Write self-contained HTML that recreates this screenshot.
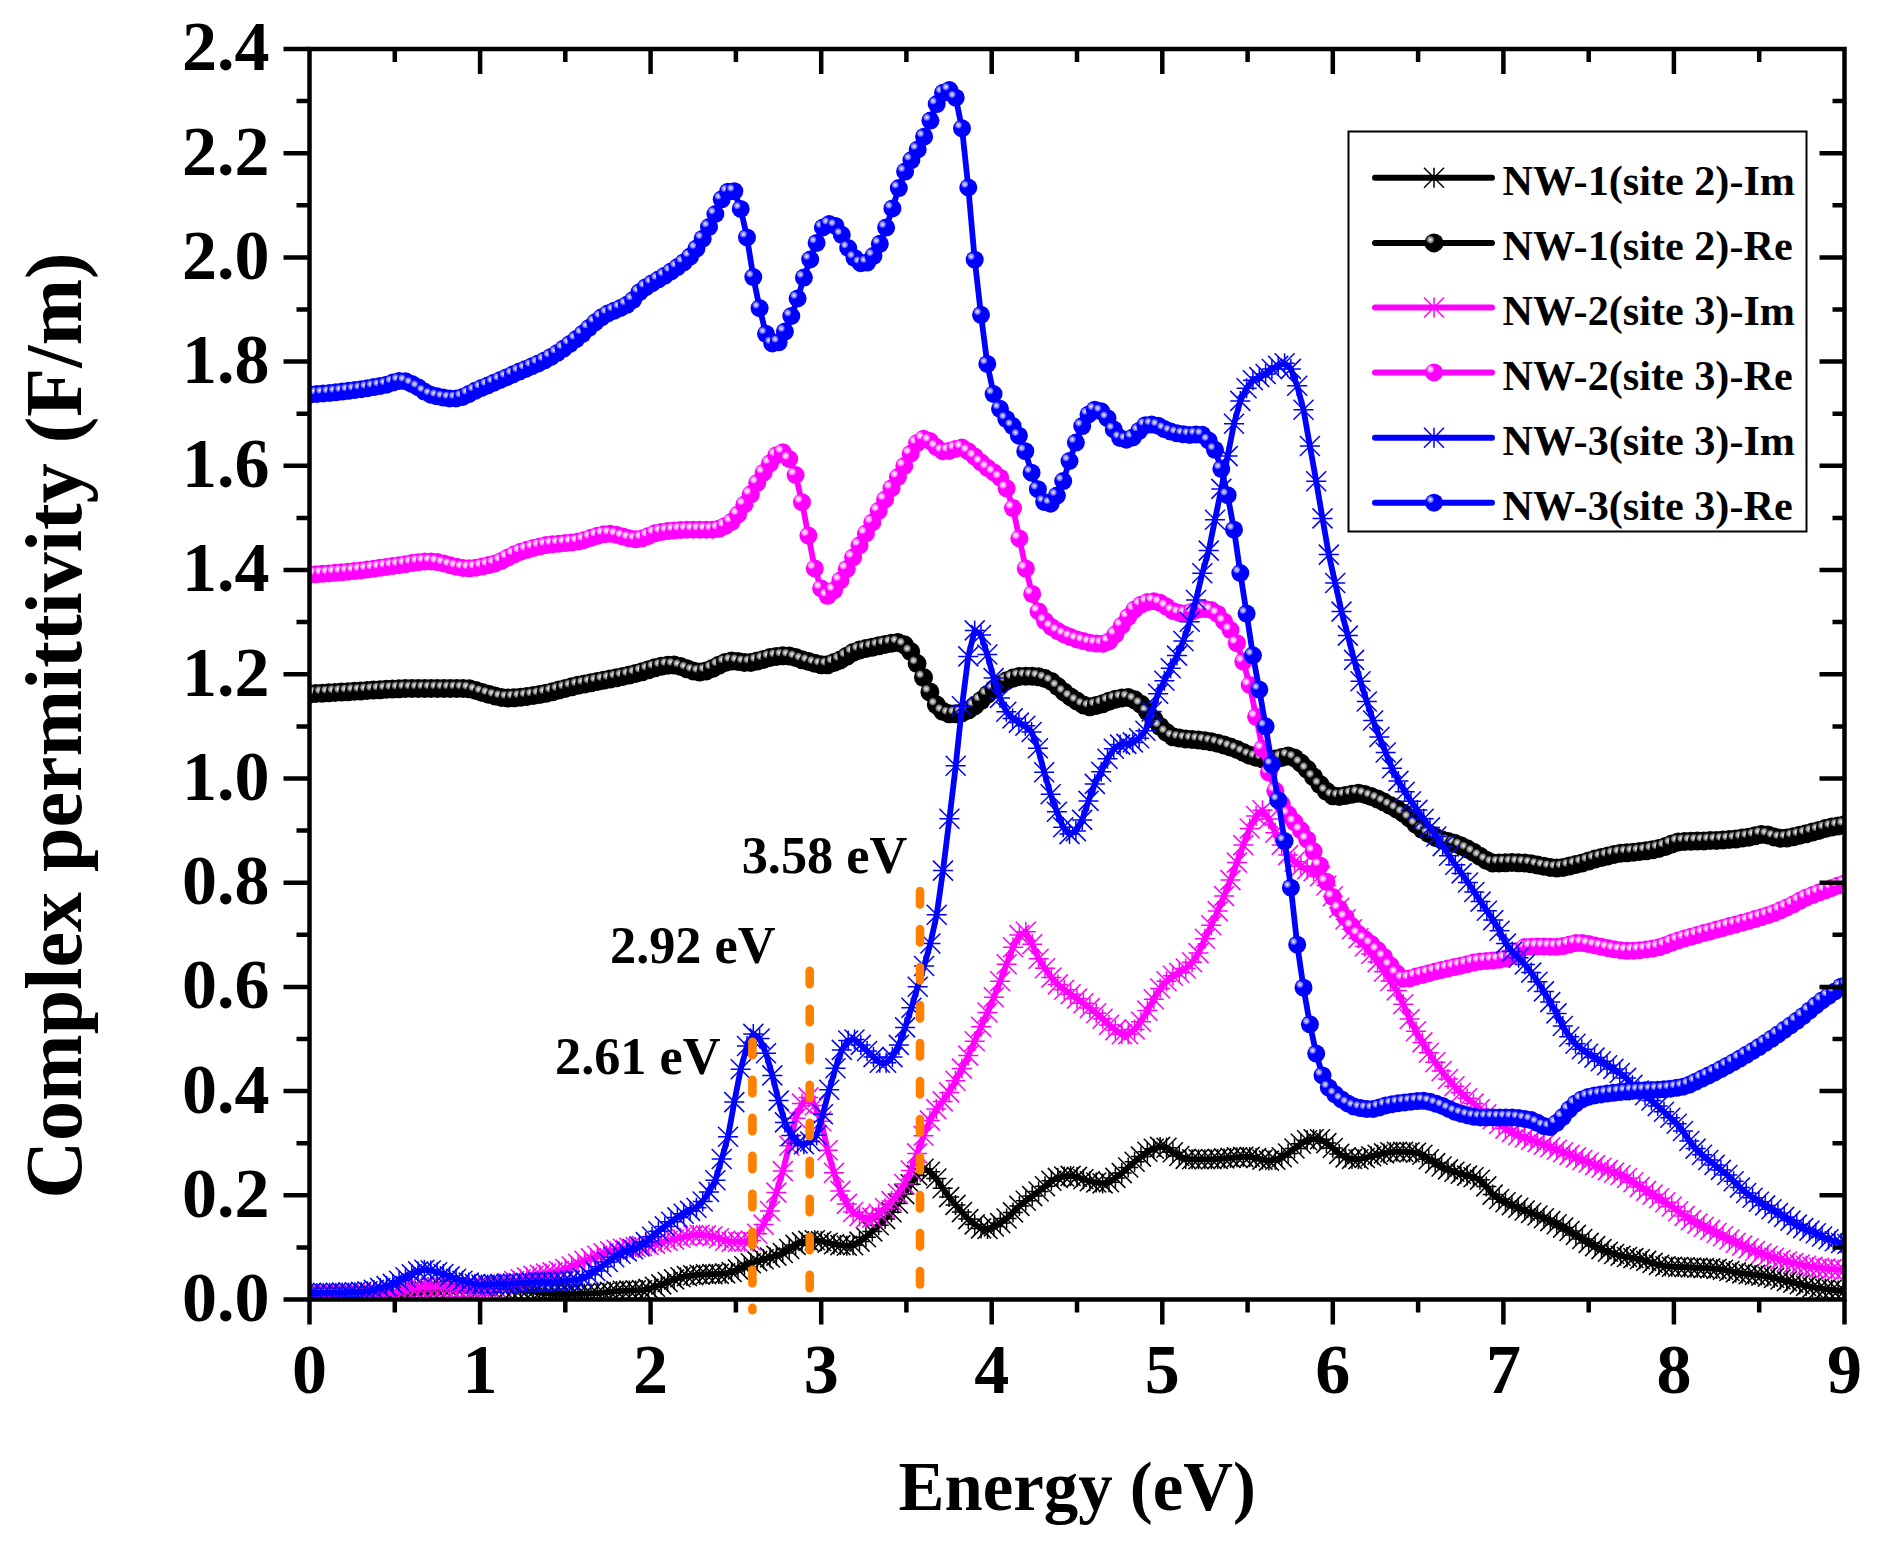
<!DOCTYPE html>
<html lang="en"><head><meta charset="utf-8"><title>Complex permittivity</title>
<style>html,body{margin:0;padding:0;background:#fff}svg{display:block}text{font-family:"Liberation Serif","Times New Roman",serif;font-weight:bold;fill:#000}</style></head><body>
<svg width="1885" height="1546" viewBox="0 0 1885 1546">
<defs>
<radialGradient id="gk"><stop offset="0" stop-color="#ffffff"/><stop offset="0.2" stop-color="#d0d0d0"/><stop offset="0.65" stop-color="#909090" stop-opacity="0.9"/><stop offset="1" stop-color="#606060" stop-opacity="0"/></radialGradient>
<radialGradient id="gm"><stop offset="0" stop-color="#ffffff"/><stop offset="0.3" stop-color="#ffd0ff"/><stop offset="0.7" stop-color="#ff90ff" stop-opacity="0.85"/><stop offset="1" stop-color="#ff60ff" stop-opacity="0"/></radialGradient>
<radialGradient id="gb"><stop offset="0" stop-color="#ffffff"/><stop offset="0.22" stop-color="#c4c4ff"/><stop offset="0.7" stop-color="#8080ff" stop-opacity="0.85"/><stop offset="1" stop-color="#5050ff" stop-opacity="0"/></radialGradient>
<g id="sk"><circle r="9.5" fill="#000000"/><circle cx="-3.6" cy="-3.2" r="4.4" fill="url(#gk)"/></g>
<g id="ak" stroke="#000000" stroke-width="1.5" fill="none"><path d="M-10 0H10M0 -10V10M-10 -10L10 10M-10 10L10 -10"/></g>
<g id="sm"><circle r="9.0" fill="#ff00ff"/><circle cx="-3.6" cy="-3.2" r="4.3" fill="url(#gm)"/></g>
<g id="am" stroke="#ff00ff" stroke-width="1.5" fill="none"><path d="M-10 0H10M0 -10V10M-10 -10L10 10M-10 10L10 -10"/></g>
<g id="sb"><circle r="9.0" fill="#0000ff"/><circle cx="-3.6" cy="-3.2" r="4.0" fill="url(#gb)"/></g>
<g id="ab" stroke="#0000ff" stroke-width="1.5" fill="none"><path d="M-10 0H10M0 -10V10M-10 -10L10 10M-10 10L10 -10"/></g>
<clipPath id="clip"><rect x="308.0" y="49.0" width="1536.5" height="1251.5"/></clipPath>
</defs>
<rect width="1885" height="1546" fill="#fff"/>
<g clip-path="url(#clip)">
<polyline points="309.5,1296.0 315.9,1296.0 322.3,1296.0 328.7,1296.0 335.1,1295.9 341.5,1295.9 347.9,1295.8 354.3,1295.8 360.7,1295.7 367.1,1295.6 373.5,1295.5 379.9,1295.4 386.2,1295.3 392.6,1295.2 399.0,1295.0 405.4,1294.6 411.8,1293.8 418.2,1292.7 424.6,1291.6 431.0,1290.9 437.4,1290.4 443.8,1290.0 450.2,1289.6 456.6,1289.2 463.0,1288.8 469.4,1288.1 475.8,1287.4 482.2,1286.8 488.6,1286.5 495.0,1286.7 501.4,1287.3 507.8,1288.3 514.2,1289.2 520.6,1290.1 527.0,1290.8 533.4,1291.7 539.8,1292.5 546.1,1293.2 552.5,1293.8 558.9,1294.0 565.3,1294.0 571.7,1293.9 578.1,1293.8 584.5,1293.6 590.9,1293.4 597.3,1293.1 603.7,1292.7 610.1,1291.9 616.5,1291.1 622.9,1290.8 629.3,1290.6 635.7,1290.4 642.1,1290.1 648.5,1288.9 654.9,1286.7 661.3,1284.4 667.7,1282.0 674.1,1279.4 680.5,1277.3 686.9,1276.1 693.2,1275.3 699.6,1274.7 706.0,1274.3 712.4,1274.1 718.8,1273.9 725.2,1273.4 731.6,1272.0 738.0,1269.4 744.4,1266.2 750.8,1263.2 757.2,1261.1 763.6,1259.3 770.0,1257.5 776.4,1255.6 782.8,1253.0 789.2,1249.0 795.6,1244.9 802.0,1242.4 808.4,1240.9 814.8,1240.3 821.2,1241.2 827.6,1242.7 834.0,1244.2 840.4,1245.1 846.8,1245.8 853.1,1245.2 859.5,1241.6 865.9,1237.2 872.3,1231.4 878.7,1225.2 885.1,1219.1 891.5,1212.2 897.9,1203.5 904.3,1194.1 910.7,1184.3 917.1,1175.4 923.5,1168.7 929.9,1171.8 936.3,1178.5 942.7,1188.3 949.1,1197.1 955.5,1204.9 961.9,1212.1 968.3,1219.1 974.7,1224.4 981.1,1228.4 987.5,1229.0 993.9,1226.5 1000.2,1223.1 1006.6,1218.5 1013.0,1212.4 1019.4,1205.9 1025.8,1200.7 1032.2,1196.1 1038.6,1191.5 1045.0,1186.3 1051.4,1180.8 1057.8,1177.9 1064.2,1176.5 1070.6,1175.9 1077.0,1176.9 1083.4,1179.2 1089.8,1181.2 1096.2,1182.5 1102.6,1183.4 1109.0,1182.2 1115.4,1177.9 1121.8,1173.1 1128.2,1167.5 1134.6,1161.7 1141.0,1156.6 1147.4,1151.8 1153.8,1148.7 1160.1,1146.9 1166.5,1147.7 1172.9,1152.3 1179.3,1156.0 1185.7,1158.9 1192.1,1159.3 1198.5,1159.3 1204.9,1159.3 1211.3,1159.3 1217.7,1158.9 1224.1,1158.4 1230.5,1157.9 1236.9,1157.3 1243.3,1156.9 1249.7,1156.9 1256.1,1158.1 1262.5,1159.6 1268.9,1160.6 1275.3,1159.7 1281.7,1157.2 1288.1,1153.5 1294.5,1148.5 1300.9,1143.8 1307.2,1140.2 1313.6,1139.2 1320.0,1139.2 1326.4,1143.1 1332.8,1148.0 1339.2,1153.9 1345.6,1157.4 1352.0,1158.9 1358.4,1159.2 1364.8,1158.0 1371.2,1156.2 1377.6,1154.8 1384.0,1153.4 1390.4,1152.2 1396.8,1151.7 1403.2,1151.8 1409.6,1152.2 1416.0,1152.8 1422.4,1154.8 1428.8,1159.2 1435.2,1163.1 1441.6,1166.5 1448.0,1169.4 1454.4,1171.7 1460.8,1173.7 1467.1,1175.6 1473.5,1177.3 1479.9,1179.7 1486.3,1186.4 1492.7,1194.6 1499.1,1199.0 1505.5,1202.3 1511.9,1205.1 1518.3,1207.8 1524.7,1210.5 1531.1,1213.0 1537.5,1215.5 1543.9,1218.2 1550.3,1221.1 1556.7,1224.3 1563.1,1227.6 1569.5,1231.0 1575.9,1234.9 1582.3,1239.0 1588.7,1242.9 1595.1,1246.1 1601.5,1249.1 1607.9,1251.8 1614.2,1254.0 1620.6,1255.7 1627.0,1257.0 1633.4,1258.1 1639.8,1259.3 1646.2,1260.9 1652.6,1262.9 1659.0,1264.9 1665.4,1266.2 1671.8,1266.7 1678.2,1267.0 1684.6,1267.2 1691.0,1267.5 1697.4,1267.8 1703.8,1268.1 1710.2,1268.4 1716.6,1268.9 1723.0,1269.7 1729.4,1271.0 1735.8,1272.4 1742.2,1273.4 1748.6,1274.2 1755.0,1274.9 1761.4,1275.6 1767.8,1276.6 1774.1,1277.9 1780.5,1279.5 1786.9,1281.1 1793.3,1282.6 1799.7,1284.2 1806.1,1285.9 1812.5,1287.2 1818.9,1288.2 1825.3,1289.1 1831.7,1289.8 1838.1,1290.5 1844.5,1291.0" fill="none" stroke="#000000" stroke-width="5.8" stroke-linejoin="round"/>
<g><use href="#ak" x="309.5" y="1296.0"/><use href="#ak" x="315.9" y="1296.0"/><use href="#ak" x="322.3" y="1296.0"/><use href="#ak" x="328.7" y="1296.0"/><use href="#ak" x="335.1" y="1295.9"/><use href="#ak" x="341.5" y="1295.9"/><use href="#ak" x="347.9" y="1295.8"/><use href="#ak" x="354.3" y="1295.8"/><use href="#ak" x="360.7" y="1295.7"/><use href="#ak" x="367.1" y="1295.6"/><use href="#ak" x="373.5" y="1295.5"/><use href="#ak" x="379.9" y="1295.4"/><use href="#ak" x="386.2" y="1295.3"/><use href="#ak" x="392.6" y="1295.2"/><use href="#ak" x="399.0" y="1295.0"/><use href="#ak" x="405.4" y="1294.6"/><use href="#ak" x="411.8" y="1293.8"/><use href="#ak" x="418.2" y="1292.7"/><use href="#ak" x="424.6" y="1291.6"/><use href="#ak" x="431.0" y="1290.9"/><use href="#ak" x="437.4" y="1290.4"/><use href="#ak" x="443.8" y="1290.0"/><use href="#ak" x="450.2" y="1289.6"/><use href="#ak" x="456.6" y="1289.2"/><use href="#ak" x="463.0" y="1288.8"/><use href="#ak" x="469.4" y="1288.1"/><use href="#ak" x="475.8" y="1287.4"/><use href="#ak" x="482.2" y="1286.8"/><use href="#ak" x="488.6" y="1286.5"/><use href="#ak" x="495.0" y="1286.7"/><use href="#ak" x="501.4" y="1287.3"/><use href="#ak" x="507.8" y="1288.3"/><use href="#ak" x="514.2" y="1289.2"/><use href="#ak" x="520.6" y="1290.1"/><use href="#ak" x="527.0" y="1290.8"/><use href="#ak" x="533.4" y="1291.7"/><use href="#ak" x="539.8" y="1292.5"/><use href="#ak" x="546.1" y="1293.2"/><use href="#ak" x="552.5" y="1293.8"/><use href="#ak" x="558.9" y="1294.0"/><use href="#ak" x="565.3" y="1294.0"/><use href="#ak" x="571.7" y="1293.9"/><use href="#ak" x="578.1" y="1293.8"/><use href="#ak" x="584.5" y="1293.6"/><use href="#ak" x="590.9" y="1293.4"/><use href="#ak" x="597.3" y="1293.1"/><use href="#ak" x="603.7" y="1292.7"/><use href="#ak" x="610.1" y="1291.9"/><use href="#ak" x="616.5" y="1291.1"/><use href="#ak" x="622.9" y="1290.8"/><use href="#ak" x="629.3" y="1290.6"/><use href="#ak" x="635.7" y="1290.4"/><use href="#ak" x="642.1" y="1290.1"/><use href="#ak" x="648.5" y="1288.9"/><use href="#ak" x="654.9" y="1286.7"/><use href="#ak" x="661.3" y="1284.4"/><use href="#ak" x="667.7" y="1282.0"/><use href="#ak" x="674.1" y="1279.4"/><use href="#ak" x="680.5" y="1277.3"/><use href="#ak" x="686.9" y="1276.1"/><use href="#ak" x="693.2" y="1275.3"/><use href="#ak" x="699.6" y="1274.7"/><use href="#ak" x="706.0" y="1274.3"/><use href="#ak" x="712.4" y="1274.1"/><use href="#ak" x="718.8" y="1273.9"/><use href="#ak" x="725.2" y="1273.4"/><use href="#ak" x="731.6" y="1272.0"/><use href="#ak" x="738.0" y="1269.4"/><use href="#ak" x="744.4" y="1266.2"/><use href="#ak" x="750.8" y="1263.2"/><use href="#ak" x="757.2" y="1261.1"/><use href="#ak" x="763.6" y="1259.3"/><use href="#ak" x="770.0" y="1257.5"/><use href="#ak" x="776.4" y="1255.6"/><use href="#ak" x="782.8" y="1253.0"/><use href="#ak" x="789.2" y="1249.0"/><use href="#ak" x="795.6" y="1244.9"/><use href="#ak" x="802.0" y="1242.4"/><use href="#ak" x="808.4" y="1240.9"/><use href="#ak" x="814.8" y="1240.3"/><use href="#ak" x="821.2" y="1241.2"/><use href="#ak" x="827.6" y="1242.7"/><use href="#ak" x="834.0" y="1244.2"/><use href="#ak" x="840.4" y="1245.1"/><use href="#ak" x="846.8" y="1245.8"/><use href="#ak" x="853.1" y="1245.2"/><use href="#ak" x="859.5" y="1241.6"/><use href="#ak" x="865.9" y="1237.2"/><use href="#ak" x="872.3" y="1231.4"/><use href="#ak" x="878.7" y="1225.2"/><use href="#ak" x="885.1" y="1219.1"/><use href="#ak" x="891.5" y="1212.2"/><use href="#ak" x="897.9" y="1203.5"/><use href="#ak" x="904.3" y="1194.1"/><use href="#ak" x="910.7" y="1184.3"/><use href="#ak" x="917.1" y="1175.4"/><use href="#ak" x="923.5" y="1168.7"/><use href="#ak" x="929.9" y="1171.8"/><use href="#ak" x="936.3" y="1178.5"/><use href="#ak" x="942.7" y="1188.3"/><use href="#ak" x="949.1" y="1197.1"/><use href="#ak" x="955.5" y="1204.9"/><use href="#ak" x="961.9" y="1212.1"/><use href="#ak" x="968.3" y="1219.1"/><use href="#ak" x="974.7" y="1224.4"/><use href="#ak" x="981.1" y="1228.4"/><use href="#ak" x="987.5" y="1229.0"/><use href="#ak" x="993.9" y="1226.5"/><use href="#ak" x="1000.2" y="1223.1"/><use href="#ak" x="1006.6" y="1218.5"/><use href="#ak" x="1013.0" y="1212.4"/><use href="#ak" x="1019.4" y="1205.9"/><use href="#ak" x="1025.8" y="1200.7"/><use href="#ak" x="1032.2" y="1196.1"/><use href="#ak" x="1038.6" y="1191.5"/><use href="#ak" x="1045.0" y="1186.3"/><use href="#ak" x="1051.4" y="1180.8"/><use href="#ak" x="1057.8" y="1177.9"/><use href="#ak" x="1064.2" y="1176.5"/><use href="#ak" x="1070.6" y="1175.9"/><use href="#ak" x="1077.0" y="1176.9"/><use href="#ak" x="1083.4" y="1179.2"/><use href="#ak" x="1089.8" y="1181.2"/><use href="#ak" x="1096.2" y="1182.5"/><use href="#ak" x="1102.6" y="1183.4"/><use href="#ak" x="1109.0" y="1182.2"/><use href="#ak" x="1115.4" y="1177.9"/><use href="#ak" x="1121.8" y="1173.1"/><use href="#ak" x="1128.2" y="1167.5"/><use href="#ak" x="1134.6" y="1161.7"/><use href="#ak" x="1141.0" y="1156.6"/><use href="#ak" x="1147.4" y="1151.8"/><use href="#ak" x="1153.8" y="1148.7"/><use href="#ak" x="1160.1" y="1146.9"/><use href="#ak" x="1166.5" y="1147.7"/><use href="#ak" x="1172.9" y="1152.3"/><use href="#ak" x="1179.3" y="1156.0"/><use href="#ak" x="1185.7" y="1158.9"/><use href="#ak" x="1192.1" y="1159.3"/><use href="#ak" x="1198.5" y="1159.3"/><use href="#ak" x="1204.9" y="1159.3"/><use href="#ak" x="1211.3" y="1159.3"/><use href="#ak" x="1217.7" y="1158.9"/><use href="#ak" x="1224.1" y="1158.4"/><use href="#ak" x="1230.5" y="1157.9"/><use href="#ak" x="1236.9" y="1157.3"/><use href="#ak" x="1243.3" y="1156.9"/><use href="#ak" x="1249.7" y="1156.9"/><use href="#ak" x="1256.1" y="1158.1"/><use href="#ak" x="1262.5" y="1159.6"/><use href="#ak" x="1268.9" y="1160.6"/><use href="#ak" x="1275.3" y="1159.7"/><use href="#ak" x="1281.7" y="1157.2"/><use href="#ak" x="1288.1" y="1153.5"/><use href="#ak" x="1294.5" y="1148.5"/><use href="#ak" x="1300.9" y="1143.8"/><use href="#ak" x="1307.2" y="1140.2"/><use href="#ak" x="1313.6" y="1139.2"/><use href="#ak" x="1320.0" y="1139.2"/><use href="#ak" x="1326.4" y="1143.1"/><use href="#ak" x="1332.8" y="1148.0"/><use href="#ak" x="1339.2" y="1153.9"/><use href="#ak" x="1345.6" y="1157.4"/><use href="#ak" x="1352.0" y="1158.9"/><use href="#ak" x="1358.4" y="1159.2"/><use href="#ak" x="1364.8" y="1158.0"/><use href="#ak" x="1371.2" y="1156.2"/><use href="#ak" x="1377.6" y="1154.8"/><use href="#ak" x="1384.0" y="1153.4"/><use href="#ak" x="1390.4" y="1152.2"/><use href="#ak" x="1396.8" y="1151.7"/><use href="#ak" x="1403.2" y="1151.8"/><use href="#ak" x="1409.6" y="1152.2"/><use href="#ak" x="1416.0" y="1152.8"/><use href="#ak" x="1422.4" y="1154.8"/><use href="#ak" x="1428.8" y="1159.2"/><use href="#ak" x="1435.2" y="1163.1"/><use href="#ak" x="1441.6" y="1166.5"/><use href="#ak" x="1448.0" y="1169.4"/><use href="#ak" x="1454.4" y="1171.7"/><use href="#ak" x="1460.8" y="1173.7"/><use href="#ak" x="1467.1" y="1175.6"/><use href="#ak" x="1473.5" y="1177.3"/><use href="#ak" x="1479.9" y="1179.7"/><use href="#ak" x="1486.3" y="1186.4"/><use href="#ak" x="1492.7" y="1194.6"/><use href="#ak" x="1499.1" y="1199.0"/><use href="#ak" x="1505.5" y="1202.3"/><use href="#ak" x="1511.9" y="1205.1"/><use href="#ak" x="1518.3" y="1207.8"/><use href="#ak" x="1524.7" y="1210.5"/><use href="#ak" x="1531.1" y="1213.0"/><use href="#ak" x="1537.5" y="1215.5"/><use href="#ak" x="1543.9" y="1218.2"/><use href="#ak" x="1550.3" y="1221.1"/><use href="#ak" x="1556.7" y="1224.3"/><use href="#ak" x="1563.1" y="1227.6"/><use href="#ak" x="1569.5" y="1231.0"/><use href="#ak" x="1575.9" y="1234.9"/><use href="#ak" x="1582.3" y="1239.0"/><use href="#ak" x="1588.7" y="1242.9"/><use href="#ak" x="1595.1" y="1246.1"/><use href="#ak" x="1601.5" y="1249.1"/><use href="#ak" x="1607.9" y="1251.8"/><use href="#ak" x="1614.2" y="1254.0"/><use href="#ak" x="1620.6" y="1255.7"/><use href="#ak" x="1627.0" y="1257.0"/><use href="#ak" x="1633.4" y="1258.1"/><use href="#ak" x="1639.8" y="1259.3"/><use href="#ak" x="1646.2" y="1260.9"/><use href="#ak" x="1652.6" y="1262.9"/><use href="#ak" x="1659.0" y="1264.9"/><use href="#ak" x="1665.4" y="1266.2"/><use href="#ak" x="1671.8" y="1266.7"/><use href="#ak" x="1678.2" y="1267.0"/><use href="#ak" x="1684.6" y="1267.2"/><use href="#ak" x="1691.0" y="1267.5"/><use href="#ak" x="1697.4" y="1267.8"/><use href="#ak" x="1703.8" y="1268.1"/><use href="#ak" x="1710.2" y="1268.4"/><use href="#ak" x="1716.6" y="1268.9"/><use href="#ak" x="1723.0" y="1269.7"/><use href="#ak" x="1729.4" y="1271.0"/><use href="#ak" x="1735.8" y="1272.4"/><use href="#ak" x="1742.2" y="1273.4"/><use href="#ak" x="1748.6" y="1274.2"/><use href="#ak" x="1755.0" y="1274.9"/><use href="#ak" x="1761.4" y="1275.6"/><use href="#ak" x="1767.8" y="1276.6"/><use href="#ak" x="1774.1" y="1277.9"/><use href="#ak" x="1780.5" y="1279.5"/><use href="#ak" x="1786.9" y="1281.1"/><use href="#ak" x="1793.3" y="1282.6"/><use href="#ak" x="1799.7" y="1284.2"/><use href="#ak" x="1806.1" y="1285.9"/><use href="#ak" x="1812.5" y="1287.2"/><use href="#ak" x="1818.9" y="1288.2"/><use href="#ak" x="1825.3" y="1289.1"/><use href="#ak" x="1831.7" y="1289.8"/><use href="#ak" x="1838.1" y="1290.5"/><use href="#ak" x="1844.5" y="1291.0"/></g>
<polyline points="309.5,694.0 315.9,693.6 322.3,693.2 328.7,692.8 335.1,692.4 341.5,692.1 347.9,691.7 354.3,691.3 360.7,691.0 367.1,690.6 373.5,690.1 379.9,689.7 386.2,689.3 392.6,689.0 399.0,688.7 405.4,688.5 411.8,688.5 418.2,688.5 424.6,688.5 431.0,688.5 437.4,688.5 443.8,688.5 450.2,688.5 456.6,688.5 463.0,688.5 469.4,688.8 475.8,690.4 482.2,692.5 488.6,694.2 495.0,695.9 501.4,697.4 507.8,698.0 514.2,697.7 520.6,697.2 527.0,696.4 533.4,695.6 539.8,694.6 546.1,693.3 552.5,691.7 558.9,690.1 565.3,688.4 571.7,686.8 578.1,685.3 584.5,684.0 590.9,682.7 597.3,681.5 603.7,680.2 610.1,679.0 616.5,677.7 622.9,676.4 629.3,675.1 635.7,673.6 642.1,671.7 648.5,669.7 654.9,667.8 661.3,666.3 667.7,665.2 674.1,665.1 680.5,666.4 686.9,668.7 693.2,670.9 699.6,672.0 706.0,671.0 712.4,668.5 718.8,665.3 725.2,662.5 731.6,661.1 738.0,661.5 744.4,662.5 750.8,662.6 757.2,661.0 763.6,659.4 770.0,657.6 776.4,656.5 782.8,655.8 789.2,655.9 795.6,657.5 802.0,659.7 808.4,661.4 814.8,663.3 821.2,664.7 827.6,664.7 834.0,662.6 840.4,659.9 846.8,656.3 853.1,652.5 859.5,650.1 865.9,648.6 872.3,647.3 878.7,645.8 885.1,644.4 891.5,643.3 897.9,642.6 904.3,644.8 910.7,651.6 917.1,663.6 923.5,677.5 929.9,692.0 936.3,704.8 942.7,711.3 949.1,713.8 955.5,713.7 961.9,712.7 968.3,710.0 974.7,705.9 981.1,700.5 987.5,694.4 993.9,689.0 1000.2,684.4 1006.6,680.7 1013.0,678.1 1019.4,676.4 1025.8,676.2 1032.2,676.3 1038.6,676.8 1045.0,678.6 1051.4,681.4 1057.8,686.6 1064.2,692.1 1070.6,696.9 1077.0,701.1 1083.4,704.9 1089.8,706.7 1096.2,705.5 1102.6,703.7 1109.0,701.3 1115.4,699.3 1121.8,697.9 1128.2,697.6 1134.6,699.7 1141.0,704.2 1147.4,711.6 1153.8,719.3 1160.1,726.5 1166.5,732.4 1172.9,736.7 1179.3,738.1 1185.7,738.9 1192.1,739.5 1198.5,740.0 1204.9,740.7 1211.3,741.8 1217.7,743.2 1224.1,745.0 1230.5,747.1 1236.9,749.4 1243.3,752.4 1249.7,755.3 1256.1,757.3 1262.5,758.7 1268.9,759.5 1275.3,758.9 1281.7,757.6 1288.1,755.9 1294.5,757.9 1300.9,763.1 1307.2,769.3 1313.6,776.9 1320.0,784.5 1326.4,791.2 1332.8,795.7 1339.2,796.5 1345.6,795.6 1352.0,794.3 1358.4,793.3 1364.8,794.4 1371.2,796.6 1377.6,799.0 1384.0,802.1 1390.4,805.5 1396.8,809.0 1403.2,813.0 1409.6,818.1 1416.0,824.3 1422.4,829.5 1428.8,833.6 1435.2,837.0 1441.6,839.7 1448.0,841.5 1454.4,843.2 1460.8,845.7 1467.1,848.8 1473.5,852.3 1479.9,856.3 1486.3,860.2 1492.7,863.1 1499.1,862.9 1505.5,862.7 1511.9,862.6 1518.3,862.7 1524.7,863.0 1531.1,863.7 1537.5,865.1 1543.9,866.3 1550.3,867.4 1556.7,868.0 1563.1,867.5 1569.5,866.1 1575.9,864.5 1582.3,862.9 1588.7,861.0 1595.1,859.1 1601.5,857.5 1607.9,855.9 1614.2,854.4 1620.6,853.3 1627.0,852.7 1633.4,852.2 1639.8,851.6 1646.2,850.8 1652.6,849.7 1659.0,848.4 1665.4,846.6 1671.8,844.0 1678.2,842.0 1684.6,841.5 1691.0,841.3 1697.4,841.1 1703.8,840.9 1710.2,840.6 1716.6,840.4 1723.0,840.0 1729.4,839.6 1735.8,839.0 1742.2,838.1 1748.6,837.2 1755.0,835.8 1761.4,834.4 1767.8,834.9 1774.1,836.9 1780.5,838.3 1786.9,838.0 1793.3,836.7 1799.7,835.3 1806.1,833.8 1812.5,832.1 1818.9,830.4 1825.3,828.6 1831.7,827.1 1838.1,825.9 1844.5,824.8" fill="none" stroke="#000000" stroke-width="5.8" stroke-linejoin="round"/>
<g><use href="#sk" x="309.5" y="694.0"/><use href="#sk" x="315.9" y="693.6"/><use href="#sk" x="322.3" y="693.2"/><use href="#sk" x="328.7" y="692.8"/><use href="#sk" x="335.1" y="692.4"/><use href="#sk" x="341.5" y="692.1"/><use href="#sk" x="347.9" y="691.7"/><use href="#sk" x="354.3" y="691.3"/><use href="#sk" x="360.7" y="691.0"/><use href="#sk" x="367.1" y="690.6"/><use href="#sk" x="373.5" y="690.1"/><use href="#sk" x="379.9" y="689.7"/><use href="#sk" x="386.2" y="689.3"/><use href="#sk" x="392.6" y="689.0"/><use href="#sk" x="399.0" y="688.7"/><use href="#sk" x="405.4" y="688.5"/><use href="#sk" x="411.8" y="688.5"/><use href="#sk" x="418.2" y="688.5"/><use href="#sk" x="424.6" y="688.5"/><use href="#sk" x="431.0" y="688.5"/><use href="#sk" x="437.4" y="688.5"/><use href="#sk" x="443.8" y="688.5"/><use href="#sk" x="450.2" y="688.5"/><use href="#sk" x="456.6" y="688.5"/><use href="#sk" x="463.0" y="688.5"/><use href="#sk" x="469.4" y="688.8"/><use href="#sk" x="475.8" y="690.4"/><use href="#sk" x="482.2" y="692.5"/><use href="#sk" x="488.6" y="694.2"/><use href="#sk" x="495.0" y="695.9"/><use href="#sk" x="501.4" y="697.4"/><use href="#sk" x="507.8" y="698.0"/><use href="#sk" x="514.2" y="697.7"/><use href="#sk" x="520.6" y="697.2"/><use href="#sk" x="527.0" y="696.4"/><use href="#sk" x="533.4" y="695.6"/><use href="#sk" x="539.8" y="694.6"/><use href="#sk" x="546.1" y="693.3"/><use href="#sk" x="552.5" y="691.7"/><use href="#sk" x="558.9" y="690.1"/><use href="#sk" x="565.3" y="688.4"/><use href="#sk" x="571.7" y="686.8"/><use href="#sk" x="578.1" y="685.3"/><use href="#sk" x="584.5" y="684.0"/><use href="#sk" x="590.9" y="682.7"/><use href="#sk" x="597.3" y="681.5"/><use href="#sk" x="603.7" y="680.2"/><use href="#sk" x="610.1" y="679.0"/><use href="#sk" x="616.5" y="677.7"/><use href="#sk" x="622.9" y="676.4"/><use href="#sk" x="629.3" y="675.1"/><use href="#sk" x="635.7" y="673.6"/><use href="#sk" x="642.1" y="671.7"/><use href="#sk" x="648.5" y="669.7"/><use href="#sk" x="654.9" y="667.8"/><use href="#sk" x="661.3" y="666.3"/><use href="#sk" x="667.7" y="665.2"/><use href="#sk" x="674.1" y="665.1"/><use href="#sk" x="680.5" y="666.4"/><use href="#sk" x="686.9" y="668.7"/><use href="#sk" x="693.2" y="670.9"/><use href="#sk" x="699.6" y="672.0"/><use href="#sk" x="706.0" y="671.0"/><use href="#sk" x="712.4" y="668.5"/><use href="#sk" x="718.8" y="665.3"/><use href="#sk" x="725.2" y="662.5"/><use href="#sk" x="731.6" y="661.1"/><use href="#sk" x="738.0" y="661.5"/><use href="#sk" x="744.4" y="662.5"/><use href="#sk" x="750.8" y="662.6"/><use href="#sk" x="757.2" y="661.0"/><use href="#sk" x="763.6" y="659.4"/><use href="#sk" x="770.0" y="657.6"/><use href="#sk" x="776.4" y="656.5"/><use href="#sk" x="782.8" y="655.8"/><use href="#sk" x="789.2" y="655.9"/><use href="#sk" x="795.6" y="657.5"/><use href="#sk" x="802.0" y="659.7"/><use href="#sk" x="808.4" y="661.4"/><use href="#sk" x="814.8" y="663.3"/><use href="#sk" x="821.2" y="664.7"/><use href="#sk" x="827.6" y="664.7"/><use href="#sk" x="834.0" y="662.6"/><use href="#sk" x="840.4" y="659.9"/><use href="#sk" x="846.8" y="656.3"/><use href="#sk" x="853.1" y="652.5"/><use href="#sk" x="859.5" y="650.1"/><use href="#sk" x="865.9" y="648.6"/><use href="#sk" x="872.3" y="647.3"/><use href="#sk" x="878.7" y="645.8"/><use href="#sk" x="885.1" y="644.4"/><use href="#sk" x="891.5" y="643.3"/><use href="#sk" x="897.9" y="642.6"/><use href="#sk" x="904.3" y="644.8"/><use href="#sk" x="910.7" y="651.6"/><use href="#sk" x="917.1" y="663.6"/><use href="#sk" x="923.5" y="677.5"/><use href="#sk" x="929.9" y="692.0"/><use href="#sk" x="936.3" y="704.8"/><use href="#sk" x="942.7" y="711.3"/><use href="#sk" x="949.1" y="713.8"/><use href="#sk" x="955.5" y="713.7"/><use href="#sk" x="961.9" y="712.7"/><use href="#sk" x="968.3" y="710.0"/><use href="#sk" x="974.7" y="705.9"/><use href="#sk" x="981.1" y="700.5"/><use href="#sk" x="987.5" y="694.4"/><use href="#sk" x="993.9" y="689.0"/><use href="#sk" x="1000.2" y="684.4"/><use href="#sk" x="1006.6" y="680.7"/><use href="#sk" x="1013.0" y="678.1"/><use href="#sk" x="1019.4" y="676.4"/><use href="#sk" x="1025.8" y="676.2"/><use href="#sk" x="1032.2" y="676.3"/><use href="#sk" x="1038.6" y="676.8"/><use href="#sk" x="1045.0" y="678.6"/><use href="#sk" x="1051.4" y="681.4"/><use href="#sk" x="1057.8" y="686.6"/><use href="#sk" x="1064.2" y="692.1"/><use href="#sk" x="1070.6" y="696.9"/><use href="#sk" x="1077.0" y="701.1"/><use href="#sk" x="1083.4" y="704.9"/><use href="#sk" x="1089.8" y="706.7"/><use href="#sk" x="1096.2" y="705.5"/><use href="#sk" x="1102.6" y="703.7"/><use href="#sk" x="1109.0" y="701.3"/><use href="#sk" x="1115.4" y="699.3"/><use href="#sk" x="1121.8" y="697.9"/><use href="#sk" x="1128.2" y="697.6"/><use href="#sk" x="1134.6" y="699.7"/><use href="#sk" x="1141.0" y="704.2"/><use href="#sk" x="1147.4" y="711.6"/><use href="#sk" x="1153.8" y="719.3"/><use href="#sk" x="1160.1" y="726.5"/><use href="#sk" x="1166.5" y="732.4"/><use href="#sk" x="1172.9" y="736.7"/><use href="#sk" x="1179.3" y="738.1"/><use href="#sk" x="1185.7" y="738.9"/><use href="#sk" x="1192.1" y="739.5"/><use href="#sk" x="1198.5" y="740.0"/><use href="#sk" x="1204.9" y="740.7"/><use href="#sk" x="1211.3" y="741.8"/><use href="#sk" x="1217.7" y="743.2"/><use href="#sk" x="1224.1" y="745.0"/><use href="#sk" x="1230.5" y="747.1"/><use href="#sk" x="1236.9" y="749.4"/><use href="#sk" x="1243.3" y="752.4"/><use href="#sk" x="1249.7" y="755.3"/><use href="#sk" x="1256.1" y="757.3"/><use href="#sk" x="1262.5" y="758.7"/><use href="#sk" x="1268.9" y="759.5"/><use href="#sk" x="1275.3" y="758.9"/><use href="#sk" x="1281.7" y="757.6"/><use href="#sk" x="1288.1" y="755.9"/><use href="#sk" x="1294.5" y="757.9"/><use href="#sk" x="1300.9" y="763.1"/><use href="#sk" x="1307.2" y="769.3"/><use href="#sk" x="1313.6" y="776.9"/><use href="#sk" x="1320.0" y="784.5"/><use href="#sk" x="1326.4" y="791.2"/><use href="#sk" x="1332.8" y="795.7"/><use href="#sk" x="1339.2" y="796.5"/><use href="#sk" x="1345.6" y="795.6"/><use href="#sk" x="1352.0" y="794.3"/><use href="#sk" x="1358.4" y="793.3"/><use href="#sk" x="1364.8" y="794.4"/><use href="#sk" x="1371.2" y="796.6"/><use href="#sk" x="1377.6" y="799.0"/><use href="#sk" x="1384.0" y="802.1"/><use href="#sk" x="1390.4" y="805.5"/><use href="#sk" x="1396.8" y="809.0"/><use href="#sk" x="1403.2" y="813.0"/><use href="#sk" x="1409.6" y="818.1"/><use href="#sk" x="1416.0" y="824.3"/><use href="#sk" x="1422.4" y="829.5"/><use href="#sk" x="1428.8" y="833.6"/><use href="#sk" x="1435.2" y="837.0"/><use href="#sk" x="1441.6" y="839.7"/><use href="#sk" x="1448.0" y="841.5"/><use href="#sk" x="1454.4" y="843.2"/><use href="#sk" x="1460.8" y="845.7"/><use href="#sk" x="1467.1" y="848.8"/><use href="#sk" x="1473.5" y="852.3"/><use href="#sk" x="1479.9" y="856.3"/><use href="#sk" x="1486.3" y="860.2"/><use href="#sk" x="1492.7" y="863.1"/><use href="#sk" x="1499.1" y="862.9"/><use href="#sk" x="1505.5" y="862.7"/><use href="#sk" x="1511.9" y="862.6"/><use href="#sk" x="1518.3" y="862.7"/><use href="#sk" x="1524.7" y="863.0"/><use href="#sk" x="1531.1" y="863.7"/><use href="#sk" x="1537.5" y="865.1"/><use href="#sk" x="1543.9" y="866.3"/><use href="#sk" x="1550.3" y="867.4"/><use href="#sk" x="1556.7" y="868.0"/><use href="#sk" x="1563.1" y="867.5"/><use href="#sk" x="1569.5" y="866.1"/><use href="#sk" x="1575.9" y="864.5"/><use href="#sk" x="1582.3" y="862.9"/><use href="#sk" x="1588.7" y="861.0"/><use href="#sk" x="1595.1" y="859.1"/><use href="#sk" x="1601.5" y="857.5"/><use href="#sk" x="1607.9" y="855.9"/><use href="#sk" x="1614.2" y="854.4"/><use href="#sk" x="1620.6" y="853.3"/><use href="#sk" x="1627.0" y="852.7"/><use href="#sk" x="1633.4" y="852.2"/><use href="#sk" x="1639.8" y="851.6"/><use href="#sk" x="1646.2" y="850.8"/><use href="#sk" x="1652.6" y="849.7"/><use href="#sk" x="1659.0" y="848.4"/><use href="#sk" x="1665.4" y="846.6"/><use href="#sk" x="1671.8" y="844.0"/><use href="#sk" x="1678.2" y="842.0"/><use href="#sk" x="1684.6" y="841.5"/><use href="#sk" x="1691.0" y="841.3"/><use href="#sk" x="1697.4" y="841.1"/><use href="#sk" x="1703.8" y="840.9"/><use href="#sk" x="1710.2" y="840.6"/><use href="#sk" x="1716.6" y="840.4"/><use href="#sk" x="1723.0" y="840.0"/><use href="#sk" x="1729.4" y="839.6"/><use href="#sk" x="1735.8" y="839.0"/><use href="#sk" x="1742.2" y="838.1"/><use href="#sk" x="1748.6" y="837.2"/><use href="#sk" x="1755.0" y="835.8"/><use href="#sk" x="1761.4" y="834.4"/><use href="#sk" x="1767.8" y="834.9"/><use href="#sk" x="1774.1" y="836.9"/><use href="#sk" x="1780.5" y="838.3"/><use href="#sk" x="1786.9" y="838.0"/><use href="#sk" x="1793.3" y="836.7"/><use href="#sk" x="1799.7" y="835.3"/><use href="#sk" x="1806.1" y="833.8"/><use href="#sk" x="1812.5" y="832.1"/><use href="#sk" x="1818.9" y="830.4"/><use href="#sk" x="1825.3" y="828.6"/><use href="#sk" x="1831.7" y="827.1"/><use href="#sk" x="1838.1" y="825.9"/><use href="#sk" x="1844.5" y="824.8"/></g>
<polyline points="309.5,1295.0 315.9,1295.0 322.3,1295.0 328.7,1294.9 335.1,1294.9 341.5,1294.8 347.9,1294.7 354.3,1294.6 360.7,1294.5 367.1,1294.3 373.5,1294.2 379.9,1294.0 386.2,1293.5 392.6,1292.6 399.0,1291.3 405.4,1289.9 411.8,1288.6 418.2,1287.6 424.6,1287.0 431.0,1287.0 437.4,1287.1 443.8,1287.2 450.2,1287.4 456.6,1287.6 463.0,1287.8 469.4,1287.9 475.8,1288.0 482.2,1288.0 488.6,1287.4 495.0,1286.3 501.4,1284.8 507.8,1283.0 514.2,1281.1 520.6,1279.2 527.0,1277.4 533.4,1275.9 539.8,1274.7 546.1,1273.6 552.5,1272.4 558.9,1271.0 565.3,1269.0 571.7,1266.5 578.1,1263.7 584.5,1260.9 590.9,1258.4 597.3,1255.8 603.7,1253.4 610.1,1251.2 616.5,1249.7 622.9,1248.7 629.3,1247.8 635.7,1247.0 642.1,1246.1 648.5,1245.0 654.9,1243.6 661.3,1242.2 667.7,1240.8 674.1,1239.5 680.5,1237.8 686.9,1236.2 693.2,1235.1 699.6,1234.8 706.0,1235.4 712.4,1236.3 718.8,1238.3 725.2,1240.7 731.6,1241.7 738.0,1241.7 744.4,1241.7 750.8,1240.5 757.2,1233.7 763.6,1224.6 770.0,1211.0 776.4,1192.6 782.8,1171.1 789.2,1145.8 795.6,1118.3 802.0,1103.6 808.4,1097.4 814.8,1105.5 821.2,1121.3 827.6,1150.2 834.0,1172.7 840.4,1190.9 846.8,1203.9 853.1,1212.0 859.5,1216.1 865.9,1218.0 872.3,1217.6 878.7,1213.7 885.1,1208.3 891.5,1201.1 897.9,1193.7 904.3,1184.0 910.7,1170.5 917.1,1153.4 923.5,1135.8 929.9,1120.6 936.3,1109.1 942.7,1101.4 949.1,1092.4 955.5,1080.8 961.9,1068.6 968.3,1055.6 974.7,1041.3 981.1,1026.8 987.5,1012.5 993.9,997.3 1000.2,981.3 1006.6,964.2 1013.0,947.2 1019.4,935.1 1025.8,931.7 1032.2,944.2 1038.6,958.7 1045.0,968.3 1051.4,977.6 1057.8,984.4 1064.2,989.7 1070.6,994.2 1077.0,998.6 1083.4,1003.3 1089.8,1008.1 1096.2,1013.3 1102.6,1018.7 1109.0,1024.9 1115.4,1030.1 1121.8,1034.2 1128.2,1034.2 1134.6,1029.4 1141.0,1021.7 1147.4,1010.6 1153.8,999.2 1160.1,988.5 1166.5,981.2 1172.9,975.8 1179.3,972.7 1185.7,968.5 1192.1,962.3 1198.5,953.1 1204.9,938.8 1211.3,925.2 1217.7,911.1 1224.1,896.1 1230.5,880.1 1236.9,862.6 1243.3,845.1 1249.7,828.5 1256.1,816.0 1262.5,810.2 1268.9,819.0 1275.3,832.8 1281.7,844.9 1288.1,855.1 1294.5,861.7 1300.9,866.2 1307.2,869.3 1313.6,871.3 1320.0,876.3 1326.4,885.5 1332.8,896.3 1339.2,907.8 1345.6,919.2 1352.0,929.3 1358.4,938.3 1364.8,946.5 1371.2,954.0 1377.6,962.1 1384.0,971.7 1390.4,981.0 1396.8,990.4 1403.2,1004.2 1409.6,1019.0 1416.0,1031.3 1422.4,1042.4 1428.8,1052.7 1435.2,1062.3 1441.6,1071.0 1448.0,1079.0 1454.4,1086.3 1460.8,1092.7 1467.1,1098.2 1473.5,1103.6 1479.9,1109.0 1486.3,1114.2 1492.7,1119.1 1499.1,1124.0 1505.5,1128.6 1511.9,1132.1 1518.3,1135.0 1524.7,1137.5 1531.1,1139.8 1537.5,1142.1 1543.9,1144.6 1550.3,1147.2 1556.7,1149.8 1563.1,1152.3 1569.5,1154.9 1575.9,1157.4 1582.3,1160.0 1588.7,1162.5 1595.1,1165.1 1601.5,1167.7 1607.9,1170.1 1614.2,1172.5 1620.6,1175.0 1627.0,1178.0 1633.4,1182.2 1639.8,1186.9 1646.2,1190.9 1652.6,1194.6 1659.0,1198.3 1665.4,1202.2 1671.8,1206.5 1678.2,1211.2 1684.6,1215.9 1691.0,1220.1 1697.4,1223.6 1703.8,1226.8 1710.2,1229.9 1716.6,1233.0 1723.0,1236.3 1729.4,1239.5 1735.8,1242.7 1742.2,1245.6 1748.6,1248.4 1755.0,1251.0 1761.4,1253.5 1767.8,1255.7 1774.1,1257.8 1780.5,1259.8 1786.9,1261.5 1793.3,1263.1 1799.7,1264.5 1806.1,1265.8 1812.5,1266.9 1818.9,1267.7 1825.3,1268.5 1831.7,1269.1 1838.1,1269.6 1844.5,1270.0" fill="none" stroke="#ff00ff" stroke-width="5.8" stroke-linejoin="round"/>
<g><use href="#am" x="309.5" y="1295.0"/><use href="#am" x="315.9" y="1295.0"/><use href="#am" x="322.3" y="1295.0"/><use href="#am" x="328.7" y="1294.9"/><use href="#am" x="335.1" y="1294.9"/><use href="#am" x="341.5" y="1294.8"/><use href="#am" x="347.9" y="1294.7"/><use href="#am" x="354.3" y="1294.6"/><use href="#am" x="360.7" y="1294.5"/><use href="#am" x="367.1" y="1294.3"/><use href="#am" x="373.5" y="1294.2"/><use href="#am" x="379.9" y="1294.0"/><use href="#am" x="386.2" y="1293.5"/><use href="#am" x="392.6" y="1292.6"/><use href="#am" x="399.0" y="1291.3"/><use href="#am" x="405.4" y="1289.9"/><use href="#am" x="411.8" y="1288.6"/><use href="#am" x="418.2" y="1287.6"/><use href="#am" x="424.6" y="1287.0"/><use href="#am" x="431.0" y="1287.0"/><use href="#am" x="437.4" y="1287.1"/><use href="#am" x="443.8" y="1287.2"/><use href="#am" x="450.2" y="1287.4"/><use href="#am" x="456.6" y="1287.6"/><use href="#am" x="463.0" y="1287.8"/><use href="#am" x="469.4" y="1287.9"/><use href="#am" x="475.8" y="1288.0"/><use href="#am" x="482.2" y="1288.0"/><use href="#am" x="488.6" y="1287.4"/><use href="#am" x="495.0" y="1286.3"/><use href="#am" x="501.4" y="1284.8"/><use href="#am" x="507.8" y="1283.0"/><use href="#am" x="514.2" y="1281.1"/><use href="#am" x="520.6" y="1279.2"/><use href="#am" x="527.0" y="1277.4"/><use href="#am" x="533.4" y="1275.9"/><use href="#am" x="539.8" y="1274.7"/><use href="#am" x="546.1" y="1273.6"/><use href="#am" x="552.5" y="1272.4"/><use href="#am" x="558.9" y="1271.0"/><use href="#am" x="565.3" y="1269.0"/><use href="#am" x="571.7" y="1266.5"/><use href="#am" x="578.1" y="1263.7"/><use href="#am" x="584.5" y="1260.9"/><use href="#am" x="590.9" y="1258.4"/><use href="#am" x="597.3" y="1255.8"/><use href="#am" x="603.7" y="1253.4"/><use href="#am" x="610.1" y="1251.2"/><use href="#am" x="616.5" y="1249.7"/><use href="#am" x="622.9" y="1248.7"/><use href="#am" x="629.3" y="1247.8"/><use href="#am" x="635.7" y="1247.0"/><use href="#am" x="642.1" y="1246.1"/><use href="#am" x="648.5" y="1245.0"/><use href="#am" x="654.9" y="1243.6"/><use href="#am" x="661.3" y="1242.2"/><use href="#am" x="667.7" y="1240.8"/><use href="#am" x="674.1" y="1239.5"/><use href="#am" x="680.5" y="1237.8"/><use href="#am" x="686.9" y="1236.2"/><use href="#am" x="693.2" y="1235.1"/><use href="#am" x="699.6" y="1234.8"/><use href="#am" x="706.0" y="1235.4"/><use href="#am" x="712.4" y="1236.3"/><use href="#am" x="718.8" y="1238.3"/><use href="#am" x="725.2" y="1240.7"/><use href="#am" x="731.6" y="1241.7"/><use href="#am" x="738.0" y="1241.7"/><use href="#am" x="744.4" y="1241.7"/><use href="#am" x="750.8" y="1240.5"/><use href="#am" x="757.2" y="1233.7"/><use href="#am" x="763.6" y="1224.6"/><use href="#am" x="770.0" y="1211.0"/><use href="#am" x="776.4" y="1192.6"/><use href="#am" x="782.8" y="1171.1"/><use href="#am" x="789.2" y="1145.8"/><use href="#am" x="795.6" y="1118.3"/><use href="#am" x="802.0" y="1103.6"/><use href="#am" x="808.4" y="1097.4"/><use href="#am" x="814.8" y="1105.5"/><use href="#am" x="821.2" y="1121.3"/><use href="#am" x="827.6" y="1150.2"/><use href="#am" x="834.0" y="1172.7"/><use href="#am" x="840.4" y="1190.9"/><use href="#am" x="846.8" y="1203.9"/><use href="#am" x="853.1" y="1212.0"/><use href="#am" x="859.5" y="1216.1"/><use href="#am" x="865.9" y="1218.0"/><use href="#am" x="872.3" y="1217.6"/><use href="#am" x="878.7" y="1213.7"/><use href="#am" x="885.1" y="1208.3"/><use href="#am" x="891.5" y="1201.1"/><use href="#am" x="897.9" y="1193.7"/><use href="#am" x="904.3" y="1184.0"/><use href="#am" x="910.7" y="1170.5"/><use href="#am" x="917.1" y="1153.4"/><use href="#am" x="923.5" y="1135.8"/><use href="#am" x="929.9" y="1120.6"/><use href="#am" x="936.3" y="1109.1"/><use href="#am" x="942.7" y="1101.4"/><use href="#am" x="949.1" y="1092.4"/><use href="#am" x="955.5" y="1080.8"/><use href="#am" x="961.9" y="1068.6"/><use href="#am" x="968.3" y="1055.6"/><use href="#am" x="974.7" y="1041.3"/><use href="#am" x="981.1" y="1026.8"/><use href="#am" x="987.5" y="1012.5"/><use href="#am" x="993.9" y="997.3"/><use href="#am" x="1000.2" y="981.3"/><use href="#am" x="1006.6" y="964.2"/><use href="#am" x="1013.0" y="947.2"/><use href="#am" x="1019.4" y="935.1"/><use href="#am" x="1025.8" y="931.7"/><use href="#am" x="1032.2" y="944.2"/><use href="#am" x="1038.6" y="958.7"/><use href="#am" x="1045.0" y="968.3"/><use href="#am" x="1051.4" y="977.6"/><use href="#am" x="1057.8" y="984.4"/><use href="#am" x="1064.2" y="989.7"/><use href="#am" x="1070.6" y="994.2"/><use href="#am" x="1077.0" y="998.6"/><use href="#am" x="1083.4" y="1003.3"/><use href="#am" x="1089.8" y="1008.1"/><use href="#am" x="1096.2" y="1013.3"/><use href="#am" x="1102.6" y="1018.7"/><use href="#am" x="1109.0" y="1024.9"/><use href="#am" x="1115.4" y="1030.1"/><use href="#am" x="1121.8" y="1034.2"/><use href="#am" x="1128.2" y="1034.2"/><use href="#am" x="1134.6" y="1029.4"/><use href="#am" x="1141.0" y="1021.7"/><use href="#am" x="1147.4" y="1010.6"/><use href="#am" x="1153.8" y="999.2"/><use href="#am" x="1160.1" y="988.5"/><use href="#am" x="1166.5" y="981.2"/><use href="#am" x="1172.9" y="975.8"/><use href="#am" x="1179.3" y="972.7"/><use href="#am" x="1185.7" y="968.5"/><use href="#am" x="1192.1" y="962.3"/><use href="#am" x="1198.5" y="953.1"/><use href="#am" x="1204.9" y="938.8"/><use href="#am" x="1211.3" y="925.2"/><use href="#am" x="1217.7" y="911.1"/><use href="#am" x="1224.1" y="896.1"/><use href="#am" x="1230.5" y="880.1"/><use href="#am" x="1236.9" y="862.6"/><use href="#am" x="1243.3" y="845.1"/><use href="#am" x="1249.7" y="828.5"/><use href="#am" x="1256.1" y="816.0"/><use href="#am" x="1262.5" y="810.2"/><use href="#am" x="1268.9" y="819.0"/><use href="#am" x="1275.3" y="832.8"/><use href="#am" x="1281.7" y="844.9"/><use href="#am" x="1288.1" y="855.1"/><use href="#am" x="1294.5" y="861.7"/><use href="#am" x="1300.9" y="866.2"/><use href="#am" x="1307.2" y="869.3"/><use href="#am" x="1313.6" y="871.3"/><use href="#am" x="1320.0" y="876.3"/><use href="#am" x="1326.4" y="885.5"/><use href="#am" x="1332.8" y="896.3"/><use href="#am" x="1339.2" y="907.8"/><use href="#am" x="1345.6" y="919.2"/><use href="#am" x="1352.0" y="929.3"/><use href="#am" x="1358.4" y="938.3"/><use href="#am" x="1364.8" y="946.5"/><use href="#am" x="1371.2" y="954.0"/><use href="#am" x="1377.6" y="962.1"/><use href="#am" x="1384.0" y="971.7"/><use href="#am" x="1390.4" y="981.0"/><use href="#am" x="1396.8" y="990.4"/><use href="#am" x="1403.2" y="1004.2"/><use href="#am" x="1409.6" y="1019.0"/><use href="#am" x="1416.0" y="1031.3"/><use href="#am" x="1422.4" y="1042.4"/><use href="#am" x="1428.8" y="1052.7"/><use href="#am" x="1435.2" y="1062.3"/><use href="#am" x="1441.6" y="1071.0"/><use href="#am" x="1448.0" y="1079.0"/><use href="#am" x="1454.4" y="1086.3"/><use href="#am" x="1460.8" y="1092.7"/><use href="#am" x="1467.1" y="1098.2"/><use href="#am" x="1473.5" y="1103.6"/><use href="#am" x="1479.9" y="1109.0"/><use href="#am" x="1486.3" y="1114.2"/><use href="#am" x="1492.7" y="1119.1"/><use href="#am" x="1499.1" y="1124.0"/><use href="#am" x="1505.5" y="1128.6"/><use href="#am" x="1511.9" y="1132.1"/><use href="#am" x="1518.3" y="1135.0"/><use href="#am" x="1524.7" y="1137.5"/><use href="#am" x="1531.1" y="1139.8"/><use href="#am" x="1537.5" y="1142.1"/><use href="#am" x="1543.9" y="1144.6"/><use href="#am" x="1550.3" y="1147.2"/><use href="#am" x="1556.7" y="1149.8"/><use href="#am" x="1563.1" y="1152.3"/><use href="#am" x="1569.5" y="1154.9"/><use href="#am" x="1575.9" y="1157.4"/><use href="#am" x="1582.3" y="1160.0"/><use href="#am" x="1588.7" y="1162.5"/><use href="#am" x="1595.1" y="1165.1"/><use href="#am" x="1601.5" y="1167.7"/><use href="#am" x="1607.9" y="1170.1"/><use href="#am" x="1614.2" y="1172.5"/><use href="#am" x="1620.6" y="1175.0"/><use href="#am" x="1627.0" y="1178.0"/><use href="#am" x="1633.4" y="1182.2"/><use href="#am" x="1639.8" y="1186.9"/><use href="#am" x="1646.2" y="1190.9"/><use href="#am" x="1652.6" y="1194.6"/><use href="#am" x="1659.0" y="1198.3"/><use href="#am" x="1665.4" y="1202.2"/><use href="#am" x="1671.8" y="1206.5"/><use href="#am" x="1678.2" y="1211.2"/><use href="#am" x="1684.6" y="1215.9"/><use href="#am" x="1691.0" y="1220.1"/><use href="#am" x="1697.4" y="1223.6"/><use href="#am" x="1703.8" y="1226.8"/><use href="#am" x="1710.2" y="1229.9"/><use href="#am" x="1716.6" y="1233.0"/><use href="#am" x="1723.0" y="1236.3"/><use href="#am" x="1729.4" y="1239.5"/><use href="#am" x="1735.8" y="1242.7"/><use href="#am" x="1742.2" y="1245.6"/><use href="#am" x="1748.6" y="1248.4"/><use href="#am" x="1755.0" y="1251.0"/><use href="#am" x="1761.4" y="1253.5"/><use href="#am" x="1767.8" y="1255.7"/><use href="#am" x="1774.1" y="1257.8"/><use href="#am" x="1780.5" y="1259.8"/><use href="#am" x="1786.9" y="1261.5"/><use href="#am" x="1793.3" y="1263.1"/><use href="#am" x="1799.7" y="1264.5"/><use href="#am" x="1806.1" y="1265.8"/><use href="#am" x="1812.5" y="1266.9"/><use href="#am" x="1818.9" y="1267.7"/><use href="#am" x="1825.3" y="1268.5"/><use href="#am" x="1831.7" y="1269.1"/><use href="#am" x="1838.1" y="1269.6"/><use href="#am" x="1844.5" y="1270.0"/></g>
<polyline points="309.5,574.6 315.9,574.2 322.3,573.8 328.7,573.4 335.1,572.8 341.5,572.3 347.9,571.7 354.3,571.1 360.7,570.4 367.1,569.6 373.5,568.7 379.9,567.8 386.2,566.9 392.6,566.0 399.0,565.2 405.4,564.2 411.8,563.1 418.2,562.2 424.6,561.6 431.0,561.4 437.4,562.1 443.8,563.5 450.2,565.2 456.6,566.8 463.0,567.9 469.4,568.3 475.8,567.7 482.2,566.6 488.6,565.1 495.0,563.4 501.4,560.9 507.8,557.6 514.2,554.4 520.6,551.7 527.0,549.8 533.4,547.9 539.8,546.4 546.1,545.1 552.5,544.3 558.9,543.7 565.3,543.1 571.7,542.5 578.1,541.6 584.5,540.0 590.9,537.8 597.3,535.8 603.7,534.3 610.1,533.8 616.5,534.8 622.9,536.6 629.3,538.3 635.7,539.3 642.1,538.4 648.5,535.9 654.9,533.3 661.3,532.0 667.7,531.1 674.1,530.4 680.5,529.9 686.9,529.7 693.2,529.7 699.6,529.7 706.0,529.7 712.4,529.7 718.8,528.8 725.2,525.9 731.6,521.8 738.0,514.4 744.4,504.5 750.8,494.3 757.2,482.9 763.6,472.7 770.0,463.3 776.4,455.2 782.8,452.3 789.2,459.0 795.6,475.0 802.0,502.2 808.4,535.6 814.8,568.5 821.2,588.4 827.6,595.8 834.0,590.3 840.4,580.4 846.8,568.9 853.1,557.3 859.5,545.3 865.9,533.5 872.3,522.4 878.7,510.8 885.1,499.5 891.5,488.2 897.9,477.0 904.3,465.9 910.7,453.7 917.1,443.1 923.5,438.8 929.9,441.0 936.3,447.0 942.7,451.2 949.1,450.9 955.5,448.9 961.9,447.6 968.3,451.3 974.7,456.6 981.1,462.4 987.5,467.8 993.9,472.4 1000.2,477.7 1006.6,488.3 1013.0,508.1 1019.4,538.5 1025.8,568.6 1032.2,593.9 1038.6,611.4 1045.0,621.0 1051.4,626.9 1057.8,631.1 1064.2,634.4 1070.6,637.1 1077.0,639.4 1083.4,641.1 1089.8,642.7 1096.2,643.6 1102.6,643.8 1109.0,641.4 1115.4,634.3 1121.8,625.5 1128.2,616.9 1134.6,609.4 1141.0,604.7 1147.4,602.1 1153.8,601.2 1160.1,602.8 1166.5,606.6 1172.9,610.9 1179.3,613.0 1185.7,613.4 1192.1,611.7 1198.5,609.5 1204.9,608.9 1211.3,610.0 1217.7,613.9 1224.1,621.5 1230.5,630.0 1236.9,643.2 1243.3,661.7 1249.7,685.0 1256.1,716.8 1262.5,748.7 1268.9,772.6 1275.3,790.8 1281.7,804.0 1288.1,814.2 1294.5,822.1 1300.9,830.2 1307.2,839.4 1313.6,851.3 1320.0,865.4 1326.4,881.7 1332.8,897.0 1339.2,908.7 1345.6,917.4 1352.0,926.3 1358.4,934.0 1364.8,939.0 1371.2,944.0 1377.6,950.1 1384.0,956.9 1390.4,965.4 1396.8,973.3 1403.2,978.7 1409.6,978.4 1416.0,976.5 1422.4,974.9 1428.8,973.2 1435.2,971.5 1441.6,969.9 1448.0,968.5 1454.4,967.1 1460.8,965.7 1467.1,964.2 1473.5,962.6 1479.9,961.5 1486.3,960.9 1492.7,960.4 1499.1,959.8 1505.5,958.4 1511.9,956.0 1518.3,951.1 1524.7,947.0 1531.1,946.7 1537.5,946.5 1543.9,946.5 1550.3,946.7 1556.7,946.8 1563.1,946.1 1569.5,944.5 1575.9,943.1 1582.3,943.1 1588.7,944.1 1595.1,945.5 1601.5,946.8 1607.9,948.1 1614.2,949.3 1620.6,950.2 1627.0,950.8 1633.4,950.7 1639.8,950.2 1646.2,949.5 1652.6,948.6 1659.0,947.3 1665.4,945.2 1671.8,942.7 1678.2,940.4 1684.6,938.4 1691.0,936.7 1697.4,934.9 1703.8,933.1 1710.2,931.4 1716.6,929.6 1723.0,927.9 1729.4,926.1 1735.8,924.4 1742.2,922.7 1748.6,920.9 1755.0,919.1 1761.4,917.2 1767.8,915.2 1774.1,912.9 1780.5,910.3 1786.9,907.4 1793.3,904.3 1799.7,900.8 1806.1,897.7 1812.5,895.1 1818.9,892.6 1825.3,890.3 1831.7,887.9 1838.1,885.6 1844.5,883.5" fill="none" stroke="#ff00ff" stroke-width="5.8" stroke-linejoin="round"/>
<g><use href="#sm" x="309.5" y="574.6"/><use href="#sm" x="315.9" y="574.2"/><use href="#sm" x="322.3" y="573.8"/><use href="#sm" x="328.7" y="573.4"/><use href="#sm" x="335.1" y="572.8"/><use href="#sm" x="341.5" y="572.3"/><use href="#sm" x="347.9" y="571.7"/><use href="#sm" x="354.3" y="571.1"/><use href="#sm" x="360.7" y="570.4"/><use href="#sm" x="367.1" y="569.6"/><use href="#sm" x="373.5" y="568.7"/><use href="#sm" x="379.9" y="567.8"/><use href="#sm" x="386.2" y="566.9"/><use href="#sm" x="392.6" y="566.0"/><use href="#sm" x="399.0" y="565.2"/><use href="#sm" x="405.4" y="564.2"/><use href="#sm" x="411.8" y="563.1"/><use href="#sm" x="418.2" y="562.2"/><use href="#sm" x="424.6" y="561.6"/><use href="#sm" x="431.0" y="561.4"/><use href="#sm" x="437.4" y="562.1"/><use href="#sm" x="443.8" y="563.5"/><use href="#sm" x="450.2" y="565.2"/><use href="#sm" x="456.6" y="566.8"/><use href="#sm" x="463.0" y="567.9"/><use href="#sm" x="469.4" y="568.3"/><use href="#sm" x="475.8" y="567.7"/><use href="#sm" x="482.2" y="566.6"/><use href="#sm" x="488.6" y="565.1"/><use href="#sm" x="495.0" y="563.4"/><use href="#sm" x="501.4" y="560.9"/><use href="#sm" x="507.8" y="557.6"/><use href="#sm" x="514.2" y="554.4"/><use href="#sm" x="520.6" y="551.7"/><use href="#sm" x="527.0" y="549.8"/><use href="#sm" x="533.4" y="547.9"/><use href="#sm" x="539.8" y="546.4"/><use href="#sm" x="546.1" y="545.1"/><use href="#sm" x="552.5" y="544.3"/><use href="#sm" x="558.9" y="543.7"/><use href="#sm" x="565.3" y="543.1"/><use href="#sm" x="571.7" y="542.5"/><use href="#sm" x="578.1" y="541.6"/><use href="#sm" x="584.5" y="540.0"/><use href="#sm" x="590.9" y="537.8"/><use href="#sm" x="597.3" y="535.8"/><use href="#sm" x="603.7" y="534.3"/><use href="#sm" x="610.1" y="533.8"/><use href="#sm" x="616.5" y="534.8"/><use href="#sm" x="622.9" y="536.6"/><use href="#sm" x="629.3" y="538.3"/><use href="#sm" x="635.7" y="539.3"/><use href="#sm" x="642.1" y="538.4"/><use href="#sm" x="648.5" y="535.9"/><use href="#sm" x="654.9" y="533.3"/><use href="#sm" x="661.3" y="532.0"/><use href="#sm" x="667.7" y="531.1"/><use href="#sm" x="674.1" y="530.4"/><use href="#sm" x="680.5" y="529.9"/><use href="#sm" x="686.9" y="529.7"/><use href="#sm" x="693.2" y="529.7"/><use href="#sm" x="699.6" y="529.7"/><use href="#sm" x="706.0" y="529.7"/><use href="#sm" x="712.4" y="529.7"/><use href="#sm" x="718.8" y="528.8"/><use href="#sm" x="725.2" y="525.9"/><use href="#sm" x="731.6" y="521.8"/><use href="#sm" x="738.0" y="514.4"/><use href="#sm" x="744.4" y="504.5"/><use href="#sm" x="750.8" y="494.3"/><use href="#sm" x="757.2" y="482.9"/><use href="#sm" x="763.6" y="472.7"/><use href="#sm" x="770.0" y="463.3"/><use href="#sm" x="776.4" y="455.2"/><use href="#sm" x="782.8" y="452.3"/><use href="#sm" x="789.2" y="459.0"/><use href="#sm" x="795.6" y="475.0"/><use href="#sm" x="802.0" y="502.2"/><use href="#sm" x="808.4" y="535.6"/><use href="#sm" x="814.8" y="568.5"/><use href="#sm" x="821.2" y="588.4"/><use href="#sm" x="827.6" y="595.8"/><use href="#sm" x="834.0" y="590.3"/><use href="#sm" x="840.4" y="580.4"/><use href="#sm" x="846.8" y="568.9"/><use href="#sm" x="853.1" y="557.3"/><use href="#sm" x="859.5" y="545.3"/><use href="#sm" x="865.9" y="533.5"/><use href="#sm" x="872.3" y="522.4"/><use href="#sm" x="878.7" y="510.8"/><use href="#sm" x="885.1" y="499.5"/><use href="#sm" x="891.5" y="488.2"/><use href="#sm" x="897.9" y="477.0"/><use href="#sm" x="904.3" y="465.9"/><use href="#sm" x="910.7" y="453.7"/><use href="#sm" x="917.1" y="443.1"/><use href="#sm" x="923.5" y="438.8"/><use href="#sm" x="929.9" y="441.0"/><use href="#sm" x="936.3" y="447.0"/><use href="#sm" x="942.7" y="451.2"/><use href="#sm" x="949.1" y="450.9"/><use href="#sm" x="955.5" y="448.9"/><use href="#sm" x="961.9" y="447.6"/><use href="#sm" x="968.3" y="451.3"/><use href="#sm" x="974.7" y="456.6"/><use href="#sm" x="981.1" y="462.4"/><use href="#sm" x="987.5" y="467.8"/><use href="#sm" x="993.9" y="472.4"/><use href="#sm" x="1000.2" y="477.7"/><use href="#sm" x="1006.6" y="488.3"/><use href="#sm" x="1013.0" y="508.1"/><use href="#sm" x="1019.4" y="538.5"/><use href="#sm" x="1025.8" y="568.6"/><use href="#sm" x="1032.2" y="593.9"/><use href="#sm" x="1038.6" y="611.4"/><use href="#sm" x="1045.0" y="621.0"/><use href="#sm" x="1051.4" y="626.9"/><use href="#sm" x="1057.8" y="631.1"/><use href="#sm" x="1064.2" y="634.4"/><use href="#sm" x="1070.6" y="637.1"/><use href="#sm" x="1077.0" y="639.4"/><use href="#sm" x="1083.4" y="641.1"/><use href="#sm" x="1089.8" y="642.7"/><use href="#sm" x="1096.2" y="643.6"/><use href="#sm" x="1102.6" y="643.8"/><use href="#sm" x="1109.0" y="641.4"/><use href="#sm" x="1115.4" y="634.3"/><use href="#sm" x="1121.8" y="625.5"/><use href="#sm" x="1128.2" y="616.9"/><use href="#sm" x="1134.6" y="609.4"/><use href="#sm" x="1141.0" y="604.7"/><use href="#sm" x="1147.4" y="602.1"/><use href="#sm" x="1153.8" y="601.2"/><use href="#sm" x="1160.1" y="602.8"/><use href="#sm" x="1166.5" y="606.6"/><use href="#sm" x="1172.9" y="610.9"/><use href="#sm" x="1179.3" y="613.0"/><use href="#sm" x="1185.7" y="613.4"/><use href="#sm" x="1192.1" y="611.7"/><use href="#sm" x="1198.5" y="609.5"/><use href="#sm" x="1204.9" y="608.9"/><use href="#sm" x="1211.3" y="610.0"/><use href="#sm" x="1217.7" y="613.9"/><use href="#sm" x="1224.1" y="621.5"/><use href="#sm" x="1230.5" y="630.0"/><use href="#sm" x="1236.9" y="643.2"/><use href="#sm" x="1243.3" y="661.7"/><use href="#sm" x="1249.7" y="685.0"/><use href="#sm" x="1256.1" y="716.8"/><use href="#sm" x="1262.5" y="748.7"/><use href="#sm" x="1268.9" y="772.6"/><use href="#sm" x="1275.3" y="790.8"/><use href="#sm" x="1281.7" y="804.0"/><use href="#sm" x="1288.1" y="814.2"/><use href="#sm" x="1294.5" y="822.1"/><use href="#sm" x="1300.9" y="830.2"/><use href="#sm" x="1307.2" y="839.4"/><use href="#sm" x="1313.6" y="851.3"/><use href="#sm" x="1320.0" y="865.4"/><use href="#sm" x="1326.4" y="881.7"/><use href="#sm" x="1332.8" y="897.0"/><use href="#sm" x="1339.2" y="908.7"/><use href="#sm" x="1345.6" y="917.4"/><use href="#sm" x="1352.0" y="926.3"/><use href="#sm" x="1358.4" y="934.0"/><use href="#sm" x="1364.8" y="939.0"/><use href="#sm" x="1371.2" y="944.0"/><use href="#sm" x="1377.6" y="950.1"/><use href="#sm" x="1384.0" y="956.9"/><use href="#sm" x="1390.4" y="965.4"/><use href="#sm" x="1396.8" y="973.3"/><use href="#sm" x="1403.2" y="978.7"/><use href="#sm" x="1409.6" y="978.4"/><use href="#sm" x="1416.0" y="976.5"/><use href="#sm" x="1422.4" y="974.9"/><use href="#sm" x="1428.8" y="973.2"/><use href="#sm" x="1435.2" y="971.5"/><use href="#sm" x="1441.6" y="969.9"/><use href="#sm" x="1448.0" y="968.5"/><use href="#sm" x="1454.4" y="967.1"/><use href="#sm" x="1460.8" y="965.7"/><use href="#sm" x="1467.1" y="964.2"/><use href="#sm" x="1473.5" y="962.6"/><use href="#sm" x="1479.9" y="961.5"/><use href="#sm" x="1486.3" y="960.9"/><use href="#sm" x="1492.7" y="960.4"/><use href="#sm" x="1499.1" y="959.8"/><use href="#sm" x="1505.5" y="958.4"/><use href="#sm" x="1511.9" y="956.0"/><use href="#sm" x="1518.3" y="951.1"/><use href="#sm" x="1524.7" y="947.0"/><use href="#sm" x="1531.1" y="946.7"/><use href="#sm" x="1537.5" y="946.5"/><use href="#sm" x="1543.9" y="946.5"/><use href="#sm" x="1550.3" y="946.7"/><use href="#sm" x="1556.7" y="946.8"/><use href="#sm" x="1563.1" y="946.1"/><use href="#sm" x="1569.5" y="944.5"/><use href="#sm" x="1575.9" y="943.1"/><use href="#sm" x="1582.3" y="943.1"/><use href="#sm" x="1588.7" y="944.1"/><use href="#sm" x="1595.1" y="945.5"/><use href="#sm" x="1601.5" y="946.8"/><use href="#sm" x="1607.9" y="948.1"/><use href="#sm" x="1614.2" y="949.3"/><use href="#sm" x="1620.6" y="950.2"/><use href="#sm" x="1627.0" y="950.8"/><use href="#sm" x="1633.4" y="950.7"/><use href="#sm" x="1639.8" y="950.2"/><use href="#sm" x="1646.2" y="949.5"/><use href="#sm" x="1652.6" y="948.6"/><use href="#sm" x="1659.0" y="947.3"/><use href="#sm" x="1665.4" y="945.2"/><use href="#sm" x="1671.8" y="942.7"/><use href="#sm" x="1678.2" y="940.4"/><use href="#sm" x="1684.6" y="938.4"/><use href="#sm" x="1691.0" y="936.7"/><use href="#sm" x="1697.4" y="934.9"/><use href="#sm" x="1703.8" y="933.1"/><use href="#sm" x="1710.2" y="931.4"/><use href="#sm" x="1716.6" y="929.6"/><use href="#sm" x="1723.0" y="927.9"/><use href="#sm" x="1729.4" y="926.1"/><use href="#sm" x="1735.8" y="924.4"/><use href="#sm" x="1742.2" y="922.7"/><use href="#sm" x="1748.6" y="920.9"/><use href="#sm" x="1755.0" y="919.1"/><use href="#sm" x="1761.4" y="917.2"/><use href="#sm" x="1767.8" y="915.2"/><use href="#sm" x="1774.1" y="912.9"/><use href="#sm" x="1780.5" y="910.3"/><use href="#sm" x="1786.9" y="907.4"/><use href="#sm" x="1793.3" y="904.3"/><use href="#sm" x="1799.7" y="900.8"/><use href="#sm" x="1806.1" y="897.7"/><use href="#sm" x="1812.5" y="895.1"/><use href="#sm" x="1818.9" y="892.6"/><use href="#sm" x="1825.3" y="890.3"/><use href="#sm" x="1831.7" y="887.9"/><use href="#sm" x="1838.1" y="885.6"/><use href="#sm" x="1844.5" y="883.5"/></g>
<polyline points="304.3,1293.0 310.6,1293.0 316.9,1293.0 323.2,1292.9 329.6,1292.8 335.9,1292.7 342.2,1292.6 348.5,1292.4 354.9,1292.2 361.2,1291.9 367.5,1291.2 373.8,1289.9 380.2,1288.1 386.5,1286.1 392.8,1283.9 399.1,1280.7 405.5,1277.2 411.8,1274.2 418.1,1271.4 424.4,1269.8 430.8,1270.5 437.1,1272.2 443.4,1274.0 449.7,1276.4 456.1,1278.8 462.4,1280.7 468.7,1282.6 475.0,1284.1 481.4,1284.6 487.7,1284.5 494.0,1284.4 500.3,1284.1 506.7,1283.9 513.0,1283.5 519.3,1283.2 525.6,1282.9 532.0,1282.6 538.3,1282.3 544.6,1282.0 550.9,1281.8 557.3,1281.5 563.6,1281.1 569.9,1280.6 576.2,1280.0 582.5,1278.1 588.9,1274.7 595.2,1270.9 601.5,1266.8 607.8,1262.0 614.2,1257.3 620.5,1253.8 626.8,1251.4 633.1,1249.2 639.5,1246.4 645.8,1242.1 652.1,1236.7 658.4,1231.2 664.8,1226.4 671.1,1221.8 677.4,1217.4 683.7,1213.7 690.1,1210.9 696.4,1207.8 702.7,1201.5 709.0,1191.9 715.4,1180.3 721.7,1159.0 728.0,1136.7 734.3,1102.1 740.7,1069.2 747.0,1046.0 753.3,1033.9 759.6,1038.6 766.0,1053.3 772.3,1075.4 778.6,1100.6 784.9,1122.4 791.3,1135.6 797.6,1143.4 803.9,1144.3 810.2,1141.5 816.6,1135.2 822.9,1114.2 829.2,1089.7 835.5,1068.2 841.8,1049.9 848.2,1040.5 854.5,1039.5 860.8,1044.9 867.1,1051.0 873.5,1057.1 879.8,1062.8 886.1,1062.8 892.4,1057.1 898.8,1044.9 905.1,1027.4 911.4,1007.8 917.7,986.7 924.1,966.0 930.4,943.5 936.7,914.7 943.0,870.6 949.4,818.8 955.7,765.8 962.0,706.3 968.3,656.4 974.7,630.4 981.0,635.0 987.3,654.5 993.6,678.1 1000.0,697.9 1006.3,711.7 1012.6,718.4 1018.9,722.6 1025.3,725.8 1031.6,732.0 1037.9,748.2 1044.2,772.2 1050.6,794.3 1056.9,811.7 1063.2,827.3 1069.5,834.1 1075.9,831.1 1082.2,819.9 1088.5,800.9 1094.8,783.9 1101.2,771.7 1107.5,758.7 1113.8,748.8 1120.1,744.6 1126.4,743.9 1132.8,742.4 1139.1,738.2 1145.4,730.8 1151.7,711.5 1158.1,693.8 1164.4,680.7 1170.7,668.3 1177.0,655.6 1183.4,641.0 1189.7,621.8 1196.0,600.0 1202.3,573.2 1208.7,550.6 1215.0,519.7 1221.3,488.9 1227.6,456.1 1234.0,423.7 1240.3,400.9 1246.6,388.2 1252.9,380.2 1259.3,377.1 1265.6,374.0 1271.9,369.0 1278.2,365.9 1284.6,363.3 1290.9,368.9 1297.2,385.7 1303.5,409.8 1309.9,446.0 1316.2,481.2 1322.5,518.4 1328.8,554.6 1335.2,583.0 1341.5,611.6 1347.8,635.6 1354.1,659.9 1360.5,681.3 1366.8,701.5 1373.1,720.5 1379.4,737.0 1385.7,752.5 1392.1,768.3 1398.4,780.9 1404.7,791.7 1411.0,801.3 1417.4,809.9 1423.7,818.7 1430.0,827.4 1436.3,836.5 1442.7,846.1 1449.0,855.7 1455.3,864.7 1461.6,873.4 1468.0,882.5 1474.3,892.0 1480.6,901.6 1486.9,910.8 1493.3,920.1 1499.6,930.8 1505.9,943.6 1512.2,951.6 1518.6,957.8 1524.9,964.4 1531.2,972.6 1537.5,981.7 1543.9,991.4 1550.2,1002.1 1556.5,1013.4 1562.8,1026.0 1569.2,1036.8 1575.5,1043.8 1581.8,1049.3 1588.1,1053.7 1594.5,1057.6 1600.8,1061.3 1607.1,1065.2 1613.4,1068.9 1619.8,1073.0 1626.1,1077.9 1632.4,1084.9 1638.7,1090.5 1645.0,1095.3 1651.4,1100.5 1657.7,1106.1 1664.0,1111.8 1670.3,1117.7 1676.7,1123.7 1683.0,1131.0 1689.3,1141.0 1695.6,1148.6 1702.0,1154.7 1708.3,1160.0 1714.6,1164.9 1720.9,1169.9 1727.3,1175.0 1733.6,1181.2 1739.9,1187.6 1746.2,1193.0 1752.6,1197.7 1758.9,1201.7 1765.2,1205.4 1771.5,1209.3 1777.9,1213.1 1784.2,1216.9 1790.5,1220.6 1796.8,1224.6 1803.2,1228.1 1809.5,1230.6 1815.8,1233.2 1822.1,1236.5 1828.5,1239.3 1834.8,1241.2 1841.1,1243.0 1847.4,1244.0" fill="none" stroke="#0000ff" stroke-width="5.8" stroke-linejoin="round"/>
<g><use href="#ab" x="304.3" y="1293.0"/><use href="#ab" x="310.6" y="1293.0"/><use href="#ab" x="316.9" y="1293.0"/><use href="#ab" x="323.2" y="1292.9"/><use href="#ab" x="329.6" y="1292.8"/><use href="#ab" x="335.9" y="1292.7"/><use href="#ab" x="342.2" y="1292.6"/><use href="#ab" x="348.5" y="1292.4"/><use href="#ab" x="354.9" y="1292.2"/><use href="#ab" x="361.2" y="1291.9"/><use href="#ab" x="367.5" y="1291.2"/><use href="#ab" x="373.8" y="1289.9"/><use href="#ab" x="380.2" y="1288.1"/><use href="#ab" x="386.5" y="1286.1"/><use href="#ab" x="392.8" y="1283.9"/><use href="#ab" x="399.1" y="1280.7"/><use href="#ab" x="405.5" y="1277.2"/><use href="#ab" x="411.8" y="1274.2"/><use href="#ab" x="418.1" y="1271.4"/><use href="#ab" x="424.4" y="1269.8"/><use href="#ab" x="430.8" y="1270.5"/><use href="#ab" x="437.1" y="1272.2"/><use href="#ab" x="443.4" y="1274.0"/><use href="#ab" x="449.7" y="1276.4"/><use href="#ab" x="456.1" y="1278.8"/><use href="#ab" x="462.4" y="1280.7"/><use href="#ab" x="468.7" y="1282.6"/><use href="#ab" x="475.0" y="1284.1"/><use href="#ab" x="481.4" y="1284.6"/><use href="#ab" x="487.7" y="1284.5"/><use href="#ab" x="494.0" y="1284.4"/><use href="#ab" x="500.3" y="1284.1"/><use href="#ab" x="506.7" y="1283.9"/><use href="#ab" x="513.0" y="1283.5"/><use href="#ab" x="519.3" y="1283.2"/><use href="#ab" x="525.6" y="1282.9"/><use href="#ab" x="532.0" y="1282.6"/><use href="#ab" x="538.3" y="1282.3"/><use href="#ab" x="544.6" y="1282.0"/><use href="#ab" x="550.9" y="1281.8"/><use href="#ab" x="557.3" y="1281.5"/><use href="#ab" x="563.6" y="1281.1"/><use href="#ab" x="569.9" y="1280.6"/><use href="#ab" x="576.2" y="1280.0"/><use href="#ab" x="582.5" y="1278.1"/><use href="#ab" x="588.9" y="1274.7"/><use href="#ab" x="595.2" y="1270.9"/><use href="#ab" x="601.5" y="1266.8"/><use href="#ab" x="607.8" y="1262.0"/><use href="#ab" x="614.2" y="1257.3"/><use href="#ab" x="620.5" y="1253.8"/><use href="#ab" x="626.8" y="1251.4"/><use href="#ab" x="633.1" y="1249.2"/><use href="#ab" x="639.5" y="1246.4"/><use href="#ab" x="645.8" y="1242.1"/><use href="#ab" x="652.1" y="1236.7"/><use href="#ab" x="658.4" y="1231.2"/><use href="#ab" x="664.8" y="1226.4"/><use href="#ab" x="671.1" y="1221.8"/><use href="#ab" x="677.4" y="1217.4"/><use href="#ab" x="683.7" y="1213.7"/><use href="#ab" x="690.1" y="1210.9"/><use href="#ab" x="696.4" y="1207.8"/><use href="#ab" x="702.7" y="1201.5"/><use href="#ab" x="709.0" y="1191.9"/><use href="#ab" x="715.4" y="1180.3"/><use href="#ab" x="721.7" y="1159.0"/><use href="#ab" x="728.0" y="1136.7"/><use href="#ab" x="734.3" y="1102.1"/><use href="#ab" x="740.7" y="1069.2"/><use href="#ab" x="747.0" y="1046.0"/><use href="#ab" x="753.3" y="1033.9"/><use href="#ab" x="759.6" y="1038.6"/><use href="#ab" x="766.0" y="1053.3"/><use href="#ab" x="772.3" y="1075.4"/><use href="#ab" x="778.6" y="1100.6"/><use href="#ab" x="784.9" y="1122.4"/><use href="#ab" x="791.3" y="1135.6"/><use href="#ab" x="797.6" y="1143.4"/><use href="#ab" x="803.9" y="1144.3"/><use href="#ab" x="810.2" y="1141.5"/><use href="#ab" x="816.6" y="1135.2"/><use href="#ab" x="822.9" y="1114.2"/><use href="#ab" x="829.2" y="1089.7"/><use href="#ab" x="835.5" y="1068.2"/><use href="#ab" x="841.8" y="1049.9"/><use href="#ab" x="848.2" y="1040.5"/><use href="#ab" x="854.5" y="1039.5"/><use href="#ab" x="860.8" y="1044.9"/><use href="#ab" x="867.1" y="1051.0"/><use href="#ab" x="873.5" y="1057.1"/><use href="#ab" x="879.8" y="1062.8"/><use href="#ab" x="886.1" y="1062.8"/><use href="#ab" x="892.4" y="1057.1"/><use href="#ab" x="898.8" y="1044.9"/><use href="#ab" x="905.1" y="1027.4"/><use href="#ab" x="911.4" y="1007.8"/><use href="#ab" x="917.7" y="986.7"/><use href="#ab" x="924.1" y="966.0"/><use href="#ab" x="930.4" y="943.5"/><use href="#ab" x="936.7" y="914.7"/><use href="#ab" x="943.0" y="870.6"/><use href="#ab" x="949.4" y="818.8"/><use href="#ab" x="955.7" y="765.8"/><use href="#ab" x="962.0" y="706.3"/><use href="#ab" x="968.3" y="656.4"/><use href="#ab" x="974.7" y="630.4"/><use href="#ab" x="981.0" y="635.0"/><use href="#ab" x="987.3" y="654.5"/><use href="#ab" x="993.6" y="678.1"/><use href="#ab" x="1000.0" y="697.9"/><use href="#ab" x="1006.3" y="711.7"/><use href="#ab" x="1012.6" y="718.4"/><use href="#ab" x="1018.9" y="722.6"/><use href="#ab" x="1025.3" y="725.8"/><use href="#ab" x="1031.6" y="732.0"/><use href="#ab" x="1037.9" y="748.2"/><use href="#ab" x="1044.2" y="772.2"/><use href="#ab" x="1050.6" y="794.3"/><use href="#ab" x="1056.9" y="811.7"/><use href="#ab" x="1063.2" y="827.3"/><use href="#ab" x="1069.5" y="834.1"/><use href="#ab" x="1075.9" y="831.1"/><use href="#ab" x="1082.2" y="819.9"/><use href="#ab" x="1088.5" y="800.9"/><use href="#ab" x="1094.8" y="783.9"/><use href="#ab" x="1101.2" y="771.7"/><use href="#ab" x="1107.5" y="758.7"/><use href="#ab" x="1113.8" y="748.8"/><use href="#ab" x="1120.1" y="744.6"/><use href="#ab" x="1126.4" y="743.9"/><use href="#ab" x="1132.8" y="742.4"/><use href="#ab" x="1139.1" y="738.2"/><use href="#ab" x="1145.4" y="730.8"/><use href="#ab" x="1151.7" y="711.5"/><use href="#ab" x="1158.1" y="693.8"/><use href="#ab" x="1164.4" y="680.7"/><use href="#ab" x="1170.7" y="668.3"/><use href="#ab" x="1177.0" y="655.6"/><use href="#ab" x="1183.4" y="641.0"/><use href="#ab" x="1189.7" y="621.8"/><use href="#ab" x="1196.0" y="600.0"/><use href="#ab" x="1202.3" y="573.2"/><use href="#ab" x="1208.7" y="550.6"/><use href="#ab" x="1215.0" y="519.7"/><use href="#ab" x="1221.3" y="488.9"/><use href="#ab" x="1227.6" y="456.1"/><use href="#ab" x="1234.0" y="423.7"/><use href="#ab" x="1240.3" y="400.9"/><use href="#ab" x="1246.6" y="388.2"/><use href="#ab" x="1252.9" y="380.2"/><use href="#ab" x="1259.3" y="377.1"/><use href="#ab" x="1265.6" y="374.0"/><use href="#ab" x="1271.9" y="369.0"/><use href="#ab" x="1278.2" y="365.9"/><use href="#ab" x="1284.6" y="363.3"/><use href="#ab" x="1290.9" y="368.9"/><use href="#ab" x="1297.2" y="385.7"/><use href="#ab" x="1303.5" y="409.8"/><use href="#ab" x="1309.9" y="446.0"/><use href="#ab" x="1316.2" y="481.2"/><use href="#ab" x="1322.5" y="518.4"/><use href="#ab" x="1328.8" y="554.6"/><use href="#ab" x="1335.2" y="583.0"/><use href="#ab" x="1341.5" y="611.6"/><use href="#ab" x="1347.8" y="635.6"/><use href="#ab" x="1354.1" y="659.9"/><use href="#ab" x="1360.5" y="681.3"/><use href="#ab" x="1366.8" y="701.5"/><use href="#ab" x="1373.1" y="720.5"/><use href="#ab" x="1379.4" y="737.0"/><use href="#ab" x="1385.7" y="752.5"/><use href="#ab" x="1392.1" y="768.3"/><use href="#ab" x="1398.4" y="780.9"/><use href="#ab" x="1404.7" y="791.7"/><use href="#ab" x="1411.0" y="801.3"/><use href="#ab" x="1417.4" y="809.9"/><use href="#ab" x="1423.7" y="818.7"/><use href="#ab" x="1430.0" y="827.4"/><use href="#ab" x="1436.3" y="836.5"/><use href="#ab" x="1442.7" y="846.1"/><use href="#ab" x="1449.0" y="855.7"/><use href="#ab" x="1455.3" y="864.7"/><use href="#ab" x="1461.6" y="873.4"/><use href="#ab" x="1468.0" y="882.5"/><use href="#ab" x="1474.3" y="892.0"/><use href="#ab" x="1480.6" y="901.6"/><use href="#ab" x="1486.9" y="910.8"/><use href="#ab" x="1493.3" y="920.1"/><use href="#ab" x="1499.6" y="930.8"/><use href="#ab" x="1505.9" y="943.6"/><use href="#ab" x="1512.2" y="951.6"/><use href="#ab" x="1518.6" y="957.8"/><use href="#ab" x="1524.9" y="964.4"/><use href="#ab" x="1531.2" y="972.6"/><use href="#ab" x="1537.5" y="981.7"/><use href="#ab" x="1543.9" y="991.4"/><use href="#ab" x="1550.2" y="1002.1"/><use href="#ab" x="1556.5" y="1013.4"/><use href="#ab" x="1562.8" y="1026.0"/><use href="#ab" x="1569.2" y="1036.8"/><use href="#ab" x="1575.5" y="1043.8"/><use href="#ab" x="1581.8" y="1049.3"/><use href="#ab" x="1588.1" y="1053.7"/><use href="#ab" x="1594.5" y="1057.6"/><use href="#ab" x="1600.8" y="1061.3"/><use href="#ab" x="1607.1" y="1065.2"/><use href="#ab" x="1613.4" y="1068.9"/><use href="#ab" x="1619.8" y="1073.0"/><use href="#ab" x="1626.1" y="1077.9"/><use href="#ab" x="1632.4" y="1084.9"/><use href="#ab" x="1638.7" y="1090.5"/><use href="#ab" x="1645.0" y="1095.3"/><use href="#ab" x="1651.4" y="1100.5"/><use href="#ab" x="1657.7" y="1106.1"/><use href="#ab" x="1664.0" y="1111.8"/><use href="#ab" x="1670.3" y="1117.7"/><use href="#ab" x="1676.7" y="1123.7"/><use href="#ab" x="1683.0" y="1131.0"/><use href="#ab" x="1689.3" y="1141.0"/><use href="#ab" x="1695.6" y="1148.6"/><use href="#ab" x="1702.0" y="1154.7"/><use href="#ab" x="1708.3" y="1160.0"/><use href="#ab" x="1714.6" y="1164.9"/><use href="#ab" x="1720.9" y="1169.9"/><use href="#ab" x="1727.3" y="1175.0"/><use href="#ab" x="1733.6" y="1181.2"/><use href="#ab" x="1739.9" y="1187.6"/><use href="#ab" x="1746.2" y="1193.0"/><use href="#ab" x="1752.6" y="1197.7"/><use href="#ab" x="1758.9" y="1201.7"/><use href="#ab" x="1765.2" y="1205.4"/><use href="#ab" x="1771.5" y="1209.3"/><use href="#ab" x="1777.9" y="1213.1"/><use href="#ab" x="1784.2" y="1216.9"/><use href="#ab" x="1790.5" y="1220.6"/><use href="#ab" x="1796.8" y="1224.6"/><use href="#ab" x="1803.2" y="1228.1"/><use href="#ab" x="1809.5" y="1230.6"/><use href="#ab" x="1815.8" y="1233.2"/><use href="#ab" x="1822.1" y="1236.5"/><use href="#ab" x="1828.5" y="1239.3"/><use href="#ab" x="1834.8" y="1241.2"/><use href="#ab" x="1841.1" y="1243.0"/><use href="#ab" x="1847.4" y="1244.0"/></g>
<polyline points="304.3,394.5 310.6,394.4 316.9,394.0 323.2,393.5 329.6,392.9 335.9,392.3 342.2,391.6 348.5,390.8 354.9,390.0 361.2,389.2 367.5,388.2 373.8,387.1 380.2,386.0 386.5,384.7 392.8,382.6 399.1,380.9 405.5,381.2 411.8,383.9 418.1,387.2 424.4,391.6 430.8,394.7 437.1,396.3 443.4,397.6 449.7,398.4 456.1,398.5 462.4,397.0 468.7,394.1 475.0,390.8 481.4,388.0 487.7,385.4 494.0,382.7 500.3,380.0 506.7,377.2 513.0,374.4 519.3,371.6 525.6,368.9 532.0,366.2 538.3,363.4 544.6,360.4 550.9,356.9 557.3,353.0 563.6,348.6 569.9,343.9 576.2,339.1 582.5,333.8 588.9,328.0 595.2,322.3 601.5,317.3 607.8,313.5 614.2,310.7 620.5,308.0 626.8,304.8 633.1,299.9 639.5,292.2 645.8,287.2 652.1,283.2 658.4,279.5 664.8,275.7 671.1,271.4 677.4,267.1 683.7,262.4 690.1,256.6 696.4,248.6 702.7,238.7 709.0,227.0 715.4,214.0 721.7,199.3 728.0,191.7 734.3,191.2 740.7,208.9 747.0,237.4 753.3,277.1 759.6,308.2 766.0,333.8 772.3,343.5 778.6,342.3 784.9,331.6 791.3,316.0 797.6,298.5 803.9,277.6 810.2,259.5 816.6,242.9 822.9,227.5 829.2,224.1 835.5,225.9 841.8,234.8 848.2,248.0 854.5,257.9 860.8,263.2 867.1,262.6 873.5,255.8 879.8,243.8 886.1,227.6 892.4,208.4 898.8,188.1 905.1,171.6 911.4,160.1 917.7,149.5 924.1,136.7 930.4,120.6 936.7,104.1 943.0,92.8 949.4,90.1 955.7,97.7 962.0,128.3 968.3,187.5 974.7,259.7 981.0,314.8 987.3,363.9 993.6,394.0 1000.0,408.8 1006.3,418.9 1012.6,426.0 1018.9,435.7 1025.3,451.2 1031.6,472.7 1037.9,489.2 1044.2,502.0 1050.6,503.7 1056.9,495.6 1063.2,481.1 1069.5,461.0 1075.9,442.6 1082.2,426.1 1088.5,414.5 1094.8,409.7 1101.2,411.3 1107.5,418.2 1113.8,429.5 1120.1,438.0 1126.4,439.7 1132.8,437.4 1139.1,430.9 1145.4,425.2 1151.7,424.6 1158.1,425.7 1164.4,429.1 1170.7,431.6 1177.0,433.3 1183.4,434.3 1189.7,434.9 1196.0,434.6 1202.3,434.8 1208.7,440.5 1215.0,449.8 1221.3,468.8 1227.6,495.2 1234.0,529.7 1240.3,573.0 1246.6,613.6 1252.9,655.3 1259.3,689.6 1265.6,726.3 1271.9,764.6 1278.2,800.2 1284.6,841.1 1290.9,887.7 1297.2,944.7 1303.5,987.7 1309.9,1024.3 1316.2,1053.6 1322.5,1075.4 1328.8,1087.6 1335.2,1094.3 1341.5,1099.4 1347.8,1103.4 1354.1,1106.6 1360.5,1108.1 1366.8,1108.9 1373.1,1109.0 1379.4,1107.4 1385.7,1105.4 1392.1,1104.2 1398.4,1103.2 1404.7,1102.4 1411.0,1101.7 1417.4,1101.1 1423.7,1100.8 1430.0,1101.8 1436.3,1103.8 1442.7,1106.0 1449.0,1108.9 1455.3,1111.8 1461.6,1113.8 1468.0,1115.5 1474.3,1116.8 1480.6,1117.4 1486.9,1117.4 1493.3,1117.4 1499.6,1117.4 1505.9,1117.4 1512.2,1117.5 1518.6,1118.0 1524.9,1119.0 1531.2,1120.1 1537.5,1122.8 1543.9,1126.1 1550.2,1127.1 1556.5,1123.0 1562.8,1117.0 1569.2,1109.5 1575.5,1103.6 1581.8,1099.4 1588.1,1097.0 1594.5,1095.5 1600.8,1094.5 1607.1,1093.6 1613.4,1092.8 1619.8,1092.1 1626.1,1091.5 1632.4,1090.9 1638.7,1090.6 1645.0,1090.3 1651.4,1090.0 1657.7,1089.7 1664.0,1089.3 1670.3,1088.7 1676.7,1087.8 1683.0,1086.7 1689.3,1084.7 1695.6,1081.7 1702.0,1078.6 1708.3,1075.6 1714.6,1072.4 1720.9,1069.1 1727.3,1065.7 1733.6,1062.2 1739.9,1058.6 1746.2,1054.8 1752.6,1051.0 1758.9,1047.1 1765.2,1043.0 1771.5,1038.8 1777.9,1034.4 1784.2,1030.0 1790.5,1025.4 1796.8,1020.8 1803.2,1015.9 1809.5,1010.7 1815.8,1005.3 1822.1,1000.4 1828.5,995.9 1834.8,991.5 1841.1,986.7 1847.4,984.5" fill="none" stroke="#0000ff" stroke-width="5.8" stroke-linejoin="round"/>
<g><use href="#sb" x="304.3" y="394.5"/><use href="#sb" x="310.6" y="394.4"/><use href="#sb" x="316.9" y="394.0"/><use href="#sb" x="323.2" y="393.5"/><use href="#sb" x="329.6" y="392.9"/><use href="#sb" x="335.9" y="392.3"/><use href="#sb" x="342.2" y="391.6"/><use href="#sb" x="348.5" y="390.8"/><use href="#sb" x="354.9" y="390.0"/><use href="#sb" x="361.2" y="389.2"/><use href="#sb" x="367.5" y="388.2"/><use href="#sb" x="373.8" y="387.1"/><use href="#sb" x="380.2" y="386.0"/><use href="#sb" x="386.5" y="384.7"/><use href="#sb" x="392.8" y="382.6"/><use href="#sb" x="399.1" y="380.9"/><use href="#sb" x="405.5" y="381.2"/><use href="#sb" x="411.8" y="383.9"/><use href="#sb" x="418.1" y="387.2"/><use href="#sb" x="424.4" y="391.6"/><use href="#sb" x="430.8" y="394.7"/><use href="#sb" x="437.1" y="396.3"/><use href="#sb" x="443.4" y="397.6"/><use href="#sb" x="449.7" y="398.4"/><use href="#sb" x="456.1" y="398.5"/><use href="#sb" x="462.4" y="397.0"/><use href="#sb" x="468.7" y="394.1"/><use href="#sb" x="475.0" y="390.8"/><use href="#sb" x="481.4" y="388.0"/><use href="#sb" x="487.7" y="385.4"/><use href="#sb" x="494.0" y="382.7"/><use href="#sb" x="500.3" y="380.0"/><use href="#sb" x="506.7" y="377.2"/><use href="#sb" x="513.0" y="374.4"/><use href="#sb" x="519.3" y="371.6"/><use href="#sb" x="525.6" y="368.9"/><use href="#sb" x="532.0" y="366.2"/><use href="#sb" x="538.3" y="363.4"/><use href="#sb" x="544.6" y="360.4"/><use href="#sb" x="550.9" y="356.9"/><use href="#sb" x="557.3" y="353.0"/><use href="#sb" x="563.6" y="348.6"/><use href="#sb" x="569.9" y="343.9"/><use href="#sb" x="576.2" y="339.1"/><use href="#sb" x="582.5" y="333.8"/><use href="#sb" x="588.9" y="328.0"/><use href="#sb" x="595.2" y="322.3"/><use href="#sb" x="601.5" y="317.3"/><use href="#sb" x="607.8" y="313.5"/><use href="#sb" x="614.2" y="310.7"/><use href="#sb" x="620.5" y="308.0"/><use href="#sb" x="626.8" y="304.8"/><use href="#sb" x="633.1" y="299.9"/><use href="#sb" x="639.5" y="292.2"/><use href="#sb" x="645.8" y="287.2"/><use href="#sb" x="652.1" y="283.2"/><use href="#sb" x="658.4" y="279.5"/><use href="#sb" x="664.8" y="275.7"/><use href="#sb" x="671.1" y="271.4"/><use href="#sb" x="677.4" y="267.1"/><use href="#sb" x="683.7" y="262.4"/><use href="#sb" x="690.1" y="256.6"/><use href="#sb" x="696.4" y="248.6"/><use href="#sb" x="702.7" y="238.7"/><use href="#sb" x="709.0" y="227.0"/><use href="#sb" x="715.4" y="214.0"/><use href="#sb" x="721.7" y="199.3"/><use href="#sb" x="728.0" y="191.7"/><use href="#sb" x="734.3" y="191.2"/><use href="#sb" x="740.7" y="208.9"/><use href="#sb" x="747.0" y="237.4"/><use href="#sb" x="753.3" y="277.1"/><use href="#sb" x="759.6" y="308.2"/><use href="#sb" x="766.0" y="333.8"/><use href="#sb" x="772.3" y="343.5"/><use href="#sb" x="778.6" y="342.3"/><use href="#sb" x="784.9" y="331.6"/><use href="#sb" x="791.3" y="316.0"/><use href="#sb" x="797.6" y="298.5"/><use href="#sb" x="803.9" y="277.6"/><use href="#sb" x="810.2" y="259.5"/><use href="#sb" x="816.6" y="242.9"/><use href="#sb" x="822.9" y="227.5"/><use href="#sb" x="829.2" y="224.1"/><use href="#sb" x="835.5" y="225.9"/><use href="#sb" x="841.8" y="234.8"/><use href="#sb" x="848.2" y="248.0"/><use href="#sb" x="854.5" y="257.9"/><use href="#sb" x="860.8" y="263.2"/><use href="#sb" x="867.1" y="262.6"/><use href="#sb" x="873.5" y="255.8"/><use href="#sb" x="879.8" y="243.8"/><use href="#sb" x="886.1" y="227.6"/><use href="#sb" x="892.4" y="208.4"/><use href="#sb" x="898.8" y="188.1"/><use href="#sb" x="905.1" y="171.6"/><use href="#sb" x="911.4" y="160.1"/><use href="#sb" x="917.7" y="149.5"/><use href="#sb" x="924.1" y="136.7"/><use href="#sb" x="930.4" y="120.6"/><use href="#sb" x="936.7" y="104.1"/><use href="#sb" x="943.0" y="92.8"/><use href="#sb" x="949.4" y="90.1"/><use href="#sb" x="955.7" y="97.7"/><use href="#sb" x="962.0" y="128.3"/><use href="#sb" x="968.3" y="187.5"/><use href="#sb" x="974.7" y="259.7"/><use href="#sb" x="981.0" y="314.8"/><use href="#sb" x="987.3" y="363.9"/><use href="#sb" x="993.6" y="394.0"/><use href="#sb" x="1000.0" y="408.8"/><use href="#sb" x="1006.3" y="418.9"/><use href="#sb" x="1012.6" y="426.0"/><use href="#sb" x="1018.9" y="435.7"/><use href="#sb" x="1025.3" y="451.2"/><use href="#sb" x="1031.6" y="472.7"/><use href="#sb" x="1037.9" y="489.2"/><use href="#sb" x="1044.2" y="502.0"/><use href="#sb" x="1050.6" y="503.7"/><use href="#sb" x="1056.9" y="495.6"/><use href="#sb" x="1063.2" y="481.1"/><use href="#sb" x="1069.5" y="461.0"/><use href="#sb" x="1075.9" y="442.6"/><use href="#sb" x="1082.2" y="426.1"/><use href="#sb" x="1088.5" y="414.5"/><use href="#sb" x="1094.8" y="409.7"/><use href="#sb" x="1101.2" y="411.3"/><use href="#sb" x="1107.5" y="418.2"/><use href="#sb" x="1113.8" y="429.5"/><use href="#sb" x="1120.1" y="438.0"/><use href="#sb" x="1126.4" y="439.7"/><use href="#sb" x="1132.8" y="437.4"/><use href="#sb" x="1139.1" y="430.9"/><use href="#sb" x="1145.4" y="425.2"/><use href="#sb" x="1151.7" y="424.6"/><use href="#sb" x="1158.1" y="425.7"/><use href="#sb" x="1164.4" y="429.1"/><use href="#sb" x="1170.7" y="431.6"/><use href="#sb" x="1177.0" y="433.3"/><use href="#sb" x="1183.4" y="434.3"/><use href="#sb" x="1189.7" y="434.9"/><use href="#sb" x="1196.0" y="434.6"/><use href="#sb" x="1202.3" y="434.8"/><use href="#sb" x="1208.7" y="440.5"/><use href="#sb" x="1215.0" y="449.8"/><use href="#sb" x="1221.3" y="468.8"/><use href="#sb" x="1227.6" y="495.2"/><use href="#sb" x="1234.0" y="529.7"/><use href="#sb" x="1240.3" y="573.0"/><use href="#sb" x="1246.6" y="613.6"/><use href="#sb" x="1252.9" y="655.3"/><use href="#sb" x="1259.3" y="689.6"/><use href="#sb" x="1265.6" y="726.3"/><use href="#sb" x="1271.9" y="764.6"/><use href="#sb" x="1278.2" y="800.2"/><use href="#sb" x="1284.6" y="841.1"/><use href="#sb" x="1290.9" y="887.7"/><use href="#sb" x="1297.2" y="944.7"/><use href="#sb" x="1303.5" y="987.7"/><use href="#sb" x="1309.9" y="1024.3"/><use href="#sb" x="1316.2" y="1053.6"/><use href="#sb" x="1322.5" y="1075.4"/><use href="#sb" x="1328.8" y="1087.6"/><use href="#sb" x="1335.2" y="1094.3"/><use href="#sb" x="1341.5" y="1099.4"/><use href="#sb" x="1347.8" y="1103.4"/><use href="#sb" x="1354.1" y="1106.6"/><use href="#sb" x="1360.5" y="1108.1"/><use href="#sb" x="1366.8" y="1108.9"/><use href="#sb" x="1373.1" y="1109.0"/><use href="#sb" x="1379.4" y="1107.4"/><use href="#sb" x="1385.7" y="1105.4"/><use href="#sb" x="1392.1" y="1104.2"/><use href="#sb" x="1398.4" y="1103.2"/><use href="#sb" x="1404.7" y="1102.4"/><use href="#sb" x="1411.0" y="1101.7"/><use href="#sb" x="1417.4" y="1101.1"/><use href="#sb" x="1423.7" y="1100.8"/><use href="#sb" x="1430.0" y="1101.8"/><use href="#sb" x="1436.3" y="1103.8"/><use href="#sb" x="1442.7" y="1106.0"/><use href="#sb" x="1449.0" y="1108.9"/><use href="#sb" x="1455.3" y="1111.8"/><use href="#sb" x="1461.6" y="1113.8"/><use href="#sb" x="1468.0" y="1115.5"/><use href="#sb" x="1474.3" y="1116.8"/><use href="#sb" x="1480.6" y="1117.4"/><use href="#sb" x="1486.9" y="1117.4"/><use href="#sb" x="1493.3" y="1117.4"/><use href="#sb" x="1499.6" y="1117.4"/><use href="#sb" x="1505.9" y="1117.4"/><use href="#sb" x="1512.2" y="1117.5"/><use href="#sb" x="1518.6" y="1118.0"/><use href="#sb" x="1524.9" y="1119.0"/><use href="#sb" x="1531.2" y="1120.1"/><use href="#sb" x="1537.5" y="1122.8"/><use href="#sb" x="1543.9" y="1126.1"/><use href="#sb" x="1550.2" y="1127.1"/><use href="#sb" x="1556.5" y="1123.0"/><use href="#sb" x="1562.8" y="1117.0"/><use href="#sb" x="1569.2" y="1109.5"/><use href="#sb" x="1575.5" y="1103.6"/><use href="#sb" x="1581.8" y="1099.4"/><use href="#sb" x="1588.1" y="1097.0"/><use href="#sb" x="1594.5" y="1095.5"/><use href="#sb" x="1600.8" y="1094.5"/><use href="#sb" x="1607.1" y="1093.6"/><use href="#sb" x="1613.4" y="1092.8"/><use href="#sb" x="1619.8" y="1092.1"/><use href="#sb" x="1626.1" y="1091.5"/><use href="#sb" x="1632.4" y="1090.9"/><use href="#sb" x="1638.7" y="1090.6"/><use href="#sb" x="1645.0" y="1090.3"/><use href="#sb" x="1651.4" y="1090.0"/><use href="#sb" x="1657.7" y="1089.7"/><use href="#sb" x="1664.0" y="1089.3"/><use href="#sb" x="1670.3" y="1088.7"/><use href="#sb" x="1676.7" y="1087.8"/><use href="#sb" x="1683.0" y="1086.7"/><use href="#sb" x="1689.3" y="1084.7"/><use href="#sb" x="1695.6" y="1081.7"/><use href="#sb" x="1702.0" y="1078.6"/><use href="#sb" x="1708.3" y="1075.6"/><use href="#sb" x="1714.6" y="1072.4"/><use href="#sb" x="1720.9" y="1069.1"/><use href="#sb" x="1727.3" y="1065.7"/><use href="#sb" x="1733.6" y="1062.2"/><use href="#sb" x="1739.9" y="1058.6"/><use href="#sb" x="1746.2" y="1054.8"/><use href="#sb" x="1752.6" y="1051.0"/><use href="#sb" x="1758.9" y="1047.1"/><use href="#sb" x="1765.2" y="1043.0"/><use href="#sb" x="1771.5" y="1038.8"/><use href="#sb" x="1777.9" y="1034.4"/><use href="#sb" x="1784.2" y="1030.0"/><use href="#sb" x="1790.5" y="1025.4"/><use href="#sb" x="1796.8" y="1020.8"/><use href="#sb" x="1803.2" y="1015.9"/><use href="#sb" x="1809.5" y="1010.7"/><use href="#sb" x="1815.8" y="1005.3"/><use href="#sb" x="1822.1" y="1000.4"/><use href="#sb" x="1828.5" y="995.9"/><use href="#sb" x="1834.8" y="991.5"/><use href="#sb" x="1841.1" y="986.7"/><use href="#sb" x="1847.4" y="984.5"/></g>
</g>
<g stroke="#ff8000" stroke-width="8.6" stroke-linecap="round" fill="none" stroke-dasharray="13.4 24.6">
<path d="M752.4 1041.8V1310.2"/>
<path d="M809.7 970.7V1288.2"/>
<path d="M920 891.1V1284.6"/>
</g>
<g font-size="52.3">
<text x="741.7" y="872.8">3.58 eV</text>
<text x="610" y="962.8">2.92 eV</text>
<text x="555" y="1074.2">2.61 eV</text>
</g>
<g stroke="#000" stroke-width="4.5" fill="none" stroke-linecap="butt">
<rect x="309.5" y="49.0" width="1535.0" height="1250.5"/>
<path d="M309.5 1299.5V1324.5 M394.8 1299.5V1312.5 M394.8 49.0V62.0 M480.1 1299.5V1324.5 M480.1 49.0V74.0 M565.3 1299.5V1312.5 M565.3 49.0V62.0 M650.6 1299.5V1324.5 M650.6 49.0V74.0 M735.9 1299.5V1312.5 M735.9 49.0V62.0 M821.2 1299.5V1324.5 M821.2 49.0V74.0 M906.4 1299.5V1312.5 M906.4 49.0V62.0 M991.7 1299.5V1324.5 M991.7 49.0V74.0 M1077.0 1299.5V1312.5 M1077.0 49.0V62.0 M1162.3 1299.5V1324.5 M1162.3 49.0V74.0 M1247.6 1299.5V1312.5 M1247.6 49.0V62.0 M1332.8 1299.5V1324.5 M1332.8 49.0V74.0 M1418.1 1299.5V1312.5 M1418.1 49.0V62.0 M1503.4 1299.5V1324.5 M1503.4 49.0V74.0 M1588.7 1299.5V1312.5 M1588.7 49.0V62.0 M1673.9 1299.5V1324.5 M1673.9 49.0V74.0 M1759.2 1299.5V1312.5 M1759.2 49.0V62.0 M1844.5 1299.5V1324.5 M309.5 1299.5H283.5 M309.5 1247.4H296.5 M1844.5 1247.4H1832.5 M309.5 1195.3H283.5 M1844.5 1195.3H1819.5 M309.5 1143.2H296.5 M1844.5 1143.2H1832.5 M309.5 1091.1H283.5 M1844.5 1091.1H1819.5 M309.5 1039.0H296.5 M1844.5 1039.0H1832.5 M309.5 986.9H283.5 M1844.5 986.9H1819.5 M309.5 934.8H296.5 M1844.5 934.8H1832.5 M309.5 882.7H283.5 M1844.5 882.7H1819.5 M309.5 830.6H296.5 M1844.5 830.6H1832.5 M309.5 778.5H283.5 M1844.5 778.5H1819.5 M309.5 726.4H296.5 M1844.5 726.4H1832.5 M309.5 674.2H283.5 M1844.5 674.2H1819.5 M309.5 622.1H296.5 M1844.5 622.1H1832.5 M309.5 570.0H283.5 M1844.5 570.0H1819.5 M309.5 517.9H296.5 M1844.5 517.9H1832.5 M309.5 465.8H283.5 M1844.5 465.8H1819.5 M309.5 413.7H296.5 M1844.5 413.7H1832.5 M309.5 361.6H283.5 M1844.5 361.6H1819.5 M309.5 309.5H296.5 M1844.5 309.5H1832.5 M309.5 257.4H283.5 M1844.5 257.4H1819.5 M309.5 205.3H296.5 M1844.5 205.3H1832.5 M309.5 153.2H283.5 M1844.5 153.2H1819.5 M309.5 101.1H296.5 M1844.5 101.1H1832.5 M309.5 49.0H283.5 "/>
</g>
<g font-size="70">
<text x="309.5" y="1392.8" text-anchor="middle">0</text>
<text x="480.1" y="1392.8" text-anchor="middle">1</text>
<text x="650.6" y="1392.8" text-anchor="middle">2</text>
<text x="821.2" y="1392.8" text-anchor="middle">3</text>
<text x="991.7" y="1392.8" text-anchor="middle">4</text>
<text x="1162.3" y="1392.8" text-anchor="middle">5</text>
<text x="1332.8" y="1392.8" text-anchor="middle">6</text>
<text x="1503.4" y="1392.8" text-anchor="middle">7</text>
<text x="1673.9" y="1392.8" text-anchor="middle">8</text>
<text x="1844.5" y="1392.8" text-anchor="middle">9</text>
<text x="269.4" y="1320.9" text-anchor="end">0.0</text>
<text x="269.4" y="1216.7" text-anchor="end">0.2</text>
<text x="269.4" y="1112.5" text-anchor="end">0.4</text>
<text x="269.4" y="1008.3" text-anchor="end">0.6</text>
<text x="269.4" y="904.1" text-anchor="end">0.8</text>
<text x="269.4" y="799.9" text-anchor="end">1.0</text>
<text x="269.4" y="695.6" text-anchor="end">1.2</text>
<text x="269.4" y="591.4" text-anchor="end">1.4</text>
<text x="269.4" y="487.2" text-anchor="end">1.6</text>
<text x="269.4" y="383.0" text-anchor="end">1.8</text>
<text x="269.4" y="278.8" text-anchor="end">2.0</text>
<text x="269.4" y="174.6" text-anchor="end">2.2</text>
<text x="269.4" y="70.4" text-anchor="end">2.4</text>
</g>
<text x="1077.2" y="1509.6" font-size="68.8" text-anchor="middle">Energy (eV)</text>
<text transform="translate(81,725.5) rotate(-90)" font-size="80" text-anchor="middle">Complex permittivity (F/m)</text>
<rect x="1348.5" y="131.5" width="458" height="400" fill="#fff" stroke="#000" stroke-width="2"/>
<line x1="1375" y1="177.7" x2="1492" y2="177.7" stroke="#000000" stroke-width="6" stroke-linecap="round"/>
<use href="#ak" x="1434" y="177.7"/>
<text x="1502.5" y="194.9" font-size="42.2">NW-1(site 2)-Im</text>
<line x1="1375" y1="242.9" x2="1492" y2="242.9" stroke="#000000" stroke-width="6" stroke-linecap="round"/>
<use href="#sk" x="1434" y="242.9"/>
<text x="1502.5" y="260.1" font-size="42.2">NW-1(site 2)-Re</text>
<line x1="1375" y1="307.5" x2="1492" y2="307.5" stroke="#ff00ff" stroke-width="6" stroke-linecap="round"/>
<use href="#am" x="1434" y="307.5"/>
<text x="1502.5" y="324.7" font-size="42.2">NW-2(site 3)-Im</text>
<line x1="1375" y1="372.4" x2="1492" y2="372.4" stroke="#ff00ff" stroke-width="6" stroke-linecap="round"/>
<use href="#sm" x="1434" y="372.4"/>
<text x="1502.5" y="389.6" font-size="42.2">NW-2(site 3)-Re</text>
<line x1="1375" y1="437.8" x2="1492" y2="437.8" stroke="#0000ff" stroke-width="6" stroke-linecap="round"/>
<use href="#ab" x="1434" y="437.8"/>
<text x="1502.5" y="455.0" font-size="42.2">NW-3(site 3)-Im</text>
<line x1="1375" y1="502.7" x2="1492" y2="502.7" stroke="#0000ff" stroke-width="6" stroke-linecap="round"/>
<use href="#sb" x="1434" y="502.7"/>
<text x="1502.5" y="519.9" font-size="42.2">NW-3(site 3)-Re</text>
</svg>
</body></html>
